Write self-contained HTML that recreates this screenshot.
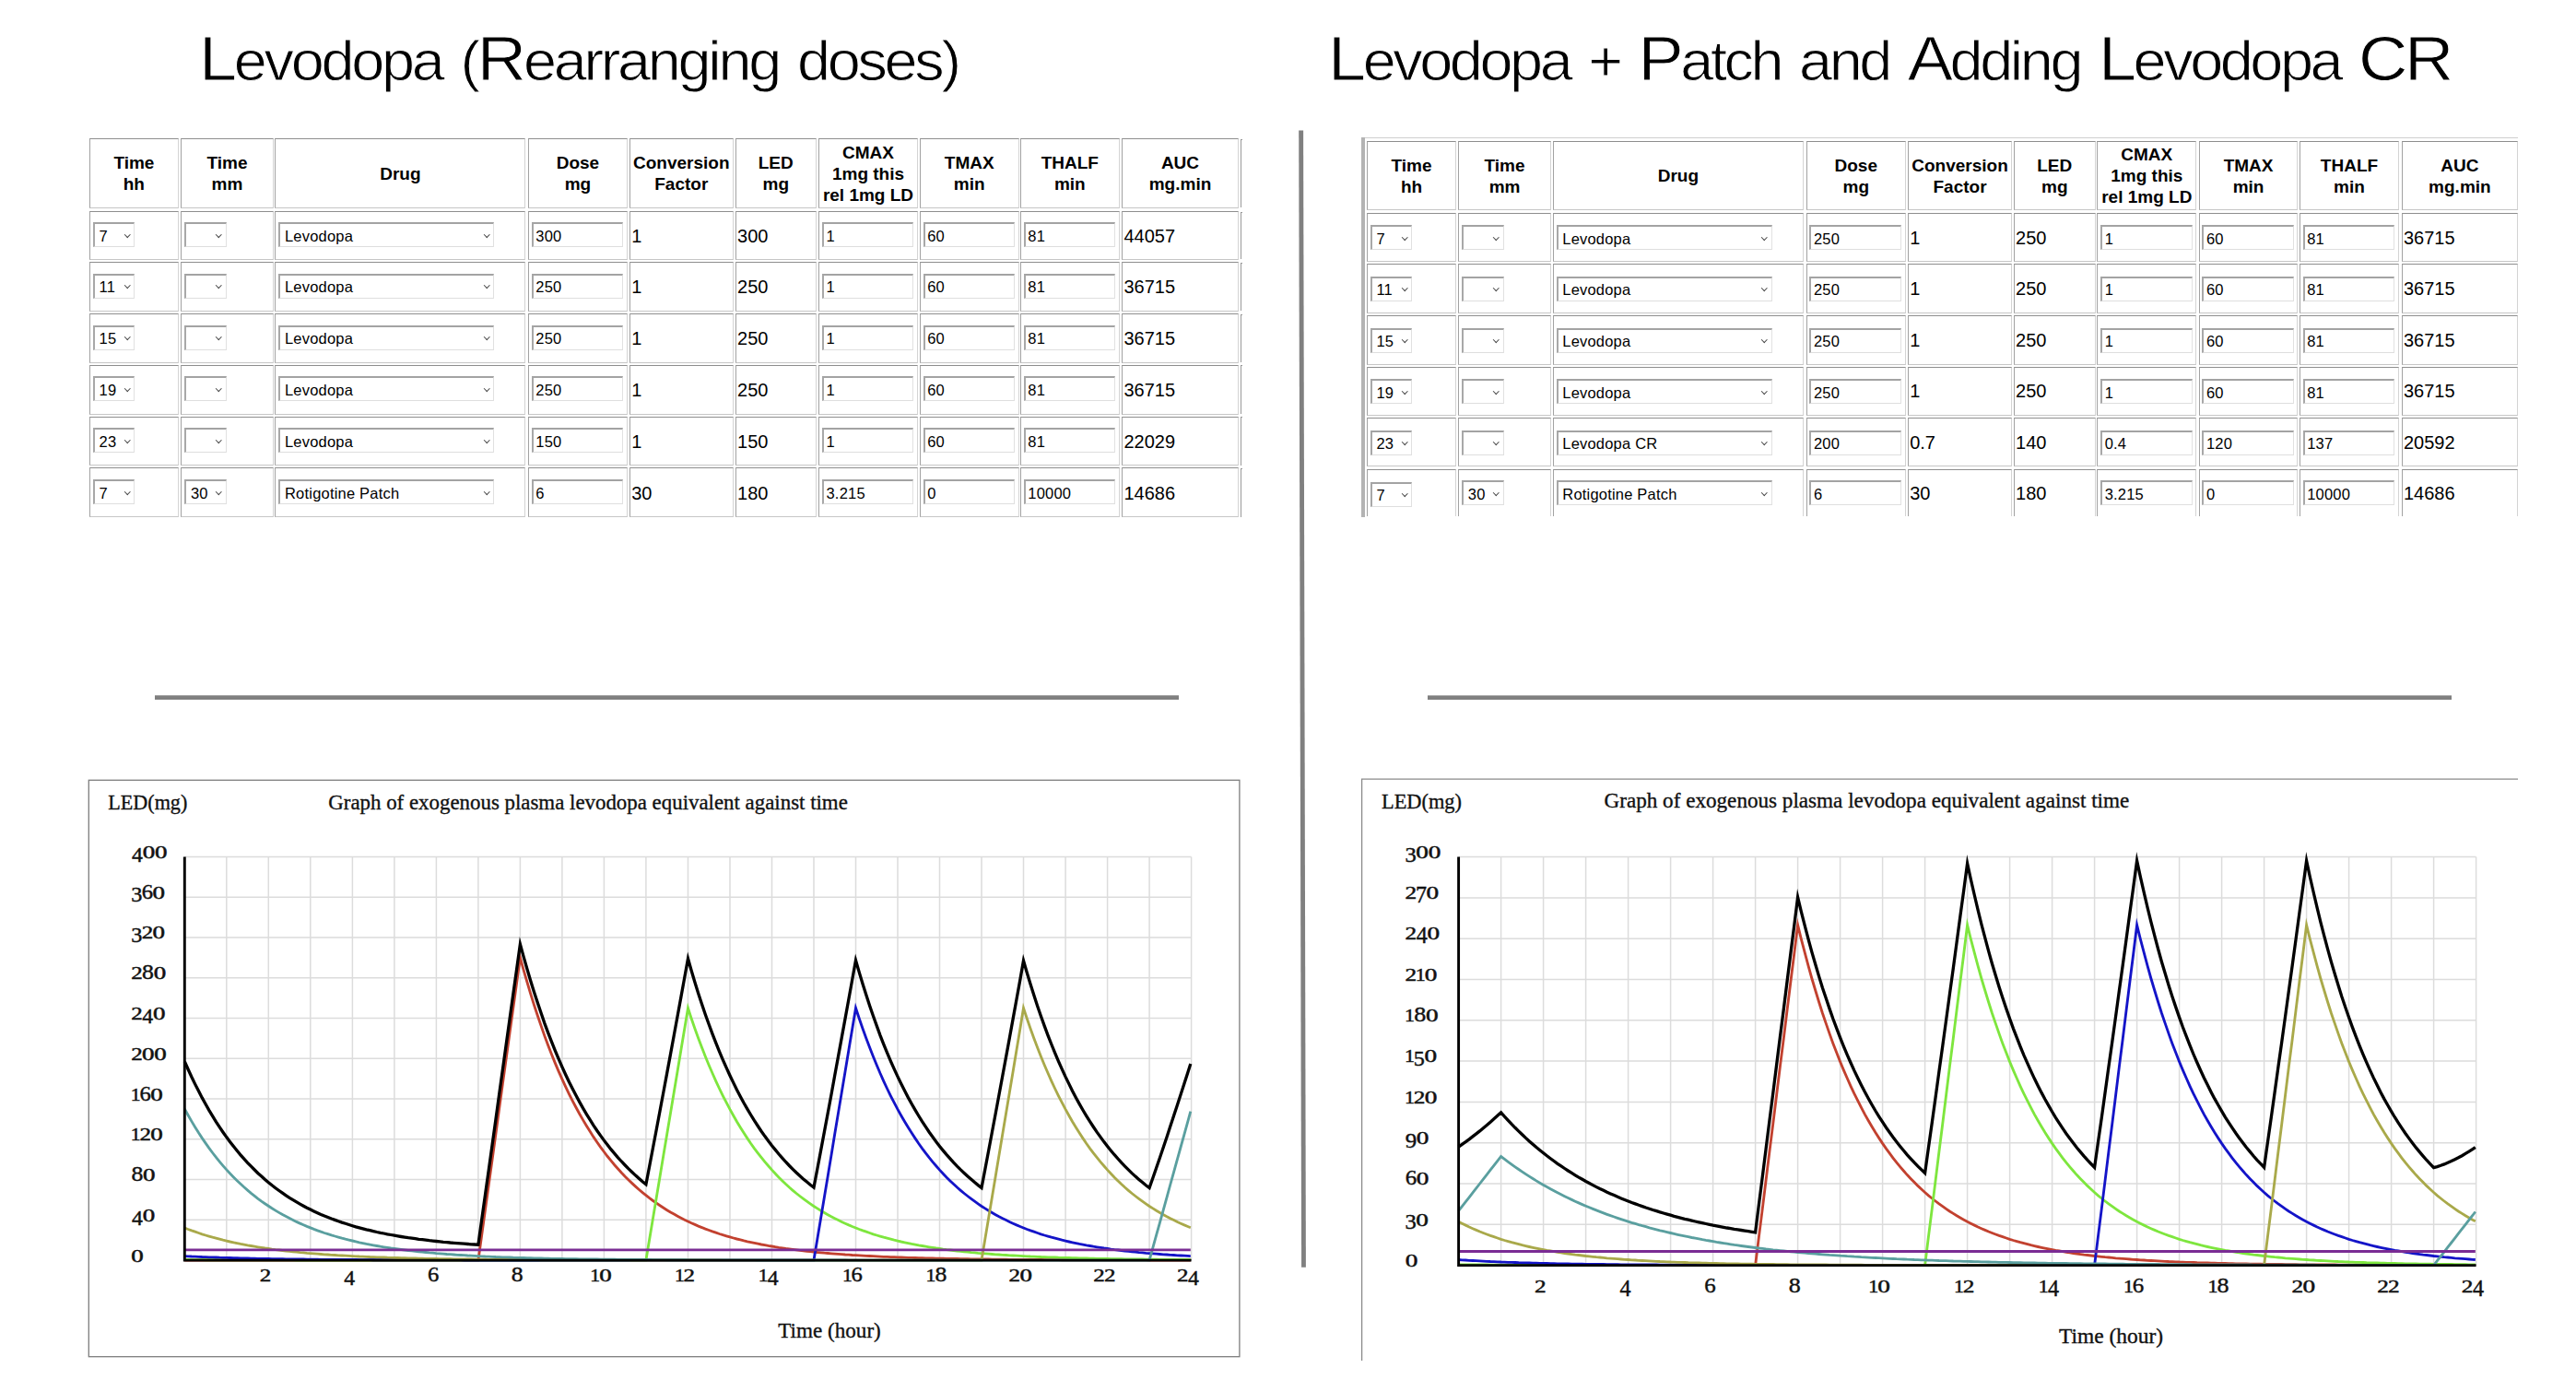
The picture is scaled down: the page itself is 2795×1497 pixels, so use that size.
<!DOCTYPE html><html><head><meta charset="utf-8"><title>Levodopa dose rearrangement</title><style>
*{box-sizing:border-box;margin:0;padding:0}
html,body{width:2795px;height:1497px;overflow:hidden;background:#fff}
body{position:relative;font-family:"Liberation Sans",Arial,sans-serif;color:#000}
.title{position:absolute;word-spacing:5px;font-family:"Liberation Sans",Arial,sans-serif;font-size:60.5px;-webkit-text-stroke:0.9px #fff;paint-order:fill stroke;line-height:1;white-space:nowrap;transform-origin:0 0;color:#000}
.c{position:absolute;border-top:1px solid #8e8e8e;border-left:1px solid #a2a2a2;border-bottom:1px solid #c6c6c6;border-right:1px solid #d4d4d4}
.h{display:flex;align-items:center;justify-content:center;text-align:center;font-weight:bold;font-size:19px;line-height:23px}
.h span{display:block;margin-top:1px}
.t{position:absolute;left:1.4px;font-size:20px;line-height:22px;white-space:nowrap}
.sel,.inp{position:absolute;height:27px;border-top:2px solid #a3a3a3;border-left:2.5px solid #a8a8a8;border-right:1.5px solid #e1e1e1;border-bottom:1.5px solid #dedede;background:#fff;font-size:16.5px;letter-spacing:0.2px;line-height:22px;white-space:nowrap}
.inp{width:99.5px}
.sel span{position:absolute;left:4.5px;top:1.5px}
.inp span{position:absolute;left:2.5px;top:1.5px}
.sel i{position:absolute;right:5px;top:8.5px;width:4.5px;height:4.5px;border-right:1.2px solid #444;border-bottom:1.2px solid #444;transform:rotate(45deg)}
.title b{font-weight:normal;font-size:69px}
svg text{font-family:"Liberation Serif","Times New Roman",serif;fill:#111;stroke:#111;stroke-width:0.35px}
svg text.n{stroke-width:0.45px}
</style></head><body>
<div class="title" id="t1" style="left:216.0px;top:28.5px;letter-spacing:-3.04px;transform:scaleX(1.07)"><b>L</b>evodopa (<b>R</b>earranging doses)</div>
<div class="title" id="t2" style="left:1441.0px;top:28.5px;letter-spacing:-3.18px;transform:scaleX(1.07)"><b>L</b>evodopa + <b>P</b>atch and <b>A</b>dding <b>L</b>evodopa <b>CR</b></div>
<div class="c h" style="left:96.9px;top:150px;width:97px;height:75.7px"><span>Time<br>hh</span></div>
<div class="c h" style="left:196.2px;top:150px;width:100.6px;height:75.7px"><span>Time<br>mm</span></div>
<div class="c h" style="left:298.3px;top:150px;width:272.1px;height:75.7px"><span>Drug</span></div>
<div class="c h" style="left:572.9px;top:150px;width:108px;height:75.7px"><span>Dose<br>mg</span></div>
<div class="c h" style="left:682.8px;top:150px;width:113px;height:75.7px"><span>Conversion<br>Factor</span></div>
<div class="c h" style="left:797.7px;top:150px;width:88.1px;height:75.7px"><span>LED<br>mg</span></div>
<div class="c h" style="left:888.1px;top:150px;width:107.8px;height:75.7px"><span>CMAX<br>1mg this<br>rel 1mg LD</span></div>
<div class="c h" style="left:997.8px;top:150px;width:107.8px;height:75.7px"><span>TMAX<br>min</span></div>
<div class="c h" style="left:1106.9px;top:150px;width:107.9px;height:75.7px"><span>THALF<br>min</span></div>
<div class="c h" style="left:1217.1px;top:150px;width:126.8px;height:75.7px"><span>AUC<br>mg.min</span></div>
<div class="c" style="left:96.9px;top:229px;width:97px;height:53px"><div class="sel" style="left:3.2px;top:11.2px;width:45.2px"><span>7</span><i></i></div></div>
<div class="c" style="left:196.2px;top:229px;width:100.6px;height:53px"><div class="sel" style="left:3.2px;top:11.2px;width:45.4px"><span></span><i></i></div></div>
<div class="c" style="left:298.3px;top:229px;width:272.1px;height:53px"><div class="sel" style="left:3.2px;top:11.2px;width:233.8px"><span>Levodopa</span><i></i></div></div>
<div class="c" style="left:572.9px;top:229px;width:108px;height:53px"><div class="inp" style="left:2.9px;top:11.2px"><span>300</span></div></div>
<div class="c" style="left:682.8px;top:229px;width:113px;height:53px"><span class="t" style="top:14.6px">1</span></div>
<div class="c" style="left:797.7px;top:229px;width:88.1px;height:53px"><span class="t" style="top:14.6px">300</span></div>
<div class="c" style="left:888.1px;top:229px;width:107.8px;height:53px"><div class="inp" style="left:2.9px;top:11.2px"><span>1</span></div></div>
<div class="c" style="left:997.8px;top:229px;width:107.8px;height:53px"><div class="inp" style="left:2.9px;top:11.2px"><span>60</span></div></div>
<div class="c" style="left:1106.9px;top:229px;width:107.9px;height:53px"><div class="inp" style="left:2.9px;top:11.2px"><span>81</span></div></div>
<div class="c" style="left:1217.1px;top:229px;width:126.8px;height:53px"><span class="t" style="top:14.6px">44057</span></div>
<div class="c" style="left:96.9px;top:284.2px;width:97px;height:53.8px"><div class="sel" style="left:3.2px;top:11.6px;width:45.2px"><span>11</span><i></i></div></div>
<div class="c" style="left:196.2px;top:284.2px;width:100.6px;height:53.8px"><div class="sel" style="left:3.2px;top:11.6px;width:45.4px"><span></span><i></i></div></div>
<div class="c" style="left:298.3px;top:284.2px;width:272.1px;height:53.8px"><div class="sel" style="left:3.2px;top:11.6px;width:233.8px"><span>Levodopa</span><i></i></div></div>
<div class="c" style="left:572.9px;top:284.2px;width:108px;height:53.8px"><div class="inp" style="left:2.9px;top:11.6px"><span>250</span></div></div>
<div class="c" style="left:682.8px;top:284.2px;width:113px;height:53.8px"><span class="t" style="top:15px">1</span></div>
<div class="c" style="left:797.7px;top:284.2px;width:88.1px;height:53.8px"><span class="t" style="top:15px">250</span></div>
<div class="c" style="left:888.1px;top:284.2px;width:107.8px;height:53.8px"><div class="inp" style="left:2.9px;top:11.6px"><span>1</span></div></div>
<div class="c" style="left:997.8px;top:284.2px;width:107.8px;height:53.8px"><div class="inp" style="left:2.9px;top:11.6px"><span>60</span></div></div>
<div class="c" style="left:1106.9px;top:284.2px;width:107.9px;height:53.8px"><div class="inp" style="left:2.9px;top:11.6px"><span>81</span></div></div>
<div class="c" style="left:1217.1px;top:284.2px;width:126.8px;height:53.8px"><span class="t" style="top:15px">36715</span></div>
<div class="c" style="left:96.9px;top:340.1px;width:97px;height:53.8px"><div class="sel" style="left:3.2px;top:11.6px;width:45.2px"><span>15</span><i></i></div></div>
<div class="c" style="left:196.2px;top:340.1px;width:100.6px;height:53.8px"><div class="sel" style="left:3.2px;top:11.6px;width:45.4px"><span></span><i></i></div></div>
<div class="c" style="left:298.3px;top:340.1px;width:272.1px;height:53.8px"><div class="sel" style="left:3.2px;top:11.6px;width:233.8px"><span>Levodopa</span><i></i></div></div>
<div class="c" style="left:572.9px;top:340.1px;width:108px;height:53.8px"><div class="inp" style="left:2.9px;top:11.6px"><span>250</span></div></div>
<div class="c" style="left:682.8px;top:340.1px;width:113px;height:53.8px"><span class="t" style="top:15px">1</span></div>
<div class="c" style="left:797.7px;top:340.1px;width:88.1px;height:53.8px"><span class="t" style="top:15px">250</span></div>
<div class="c" style="left:888.1px;top:340.1px;width:107.8px;height:53.8px"><div class="inp" style="left:2.9px;top:11.6px"><span>1</span></div></div>
<div class="c" style="left:997.8px;top:340.1px;width:107.8px;height:53.8px"><div class="inp" style="left:2.9px;top:11.6px"><span>60</span></div></div>
<div class="c" style="left:1106.9px;top:340.1px;width:107.9px;height:53.8px"><div class="inp" style="left:2.9px;top:11.6px"><span>81</span></div></div>
<div class="c" style="left:1217.1px;top:340.1px;width:126.8px;height:53.8px"><span class="t" style="top:15px">36715</span></div>
<div class="c" style="left:96.9px;top:395.5px;width:97px;height:54.4px"><div class="sel" style="left:3.2px;top:11.9px;width:45.2px"><span>19</span><i></i></div></div>
<div class="c" style="left:196.2px;top:395.5px;width:100.6px;height:54.4px"><div class="sel" style="left:3.2px;top:11.9px;width:45.4px"><span></span><i></i></div></div>
<div class="c" style="left:298.3px;top:395.5px;width:272.1px;height:54.4px"><div class="sel" style="left:3.2px;top:11.9px;width:233.8px"><span>Levodopa</span><i></i></div></div>
<div class="c" style="left:572.9px;top:395.5px;width:108px;height:54.4px"><div class="inp" style="left:2.9px;top:11.9px"><span>250</span></div></div>
<div class="c" style="left:682.8px;top:395.5px;width:113px;height:54.4px"><span class="t" style="top:15.3px">1</span></div>
<div class="c" style="left:797.7px;top:395.5px;width:88.1px;height:54.4px"><span class="t" style="top:15.3px">250</span></div>
<div class="c" style="left:888.1px;top:395.5px;width:107.8px;height:54.4px"><div class="inp" style="left:2.9px;top:11.9px"><span>1</span></div></div>
<div class="c" style="left:997.8px;top:395.5px;width:107.8px;height:54.4px"><div class="inp" style="left:2.9px;top:11.9px"><span>60</span></div></div>
<div class="c" style="left:1106.9px;top:395.5px;width:107.9px;height:54.4px"><div class="inp" style="left:2.9px;top:11.9px"><span>81</span></div></div>
<div class="c" style="left:1217.1px;top:395.5px;width:126.8px;height:54.4px"><span class="t" style="top:15.3px">36715</span></div>
<div class="c" style="left:96.9px;top:451.6px;width:97px;height:53.8px"><div class="sel" style="left:3.2px;top:11.6px;width:45.2px"><span>23</span><i></i></div></div>
<div class="c" style="left:196.2px;top:451.6px;width:100.6px;height:53.8px"><div class="sel" style="left:3.2px;top:11.6px;width:45.4px"><span></span><i></i></div></div>
<div class="c" style="left:298.3px;top:451.6px;width:272.1px;height:53.8px"><div class="sel" style="left:3.2px;top:11.6px;width:233.8px"><span>Levodopa</span><i></i></div></div>
<div class="c" style="left:572.9px;top:451.6px;width:108px;height:53.8px"><div class="inp" style="left:2.9px;top:11.6px"><span>150</span></div></div>
<div class="c" style="left:682.8px;top:451.6px;width:113px;height:53.8px"><span class="t" style="top:15px">1</span></div>
<div class="c" style="left:797.7px;top:451.6px;width:88.1px;height:53.8px"><span class="t" style="top:15px">150</span></div>
<div class="c" style="left:888.1px;top:451.6px;width:107.8px;height:53.8px"><div class="inp" style="left:2.9px;top:11.6px"><span>1</span></div></div>
<div class="c" style="left:997.8px;top:451.6px;width:107.8px;height:53.8px"><div class="inp" style="left:2.9px;top:11.6px"><span>60</span></div></div>
<div class="c" style="left:1106.9px;top:451.6px;width:107.9px;height:53.8px"><div class="inp" style="left:2.9px;top:11.6px"><span>81</span></div></div>
<div class="c" style="left:1217.1px;top:451.6px;width:126.8px;height:53.8px"><span class="t" style="top:15px">22029</span></div>
<div class="c" style="left:96.9px;top:507.4px;width:97px;height:54.1px"><div class="sel" style="left:3.2px;top:11.8px;width:45.2px"><span>7</span><i></i></div></div>
<div class="c" style="left:196.2px;top:507.4px;width:100.6px;height:54.1px"><div class="sel" style="left:3.2px;top:11.8px;width:45.4px"><span>30</span><i></i></div></div>
<div class="c" style="left:298.3px;top:507.4px;width:272.1px;height:54.1px"><div class="sel" style="left:3.2px;top:11.8px;width:233.8px"><span>Rotigotine Patch</span><i></i></div></div>
<div class="c" style="left:572.9px;top:507.4px;width:108px;height:54.1px"><div class="inp" style="left:2.9px;top:11.8px"><span>6</span></div></div>
<div class="c" style="left:682.8px;top:507.4px;width:113px;height:54.1px"><span class="t" style="top:15.2px">30</span></div>
<div class="c" style="left:797.7px;top:507.4px;width:88.1px;height:54.1px"><span class="t" style="top:15.2px">180</span></div>
<div class="c" style="left:888.1px;top:507.4px;width:107.8px;height:54.1px"><div class="inp" style="left:2.9px;top:11.8px"><span>3.215</span></div></div>
<div class="c" style="left:997.8px;top:507.4px;width:107.8px;height:54.1px"><div class="inp" style="left:2.9px;top:11.8px"><span>0</span></div></div>
<div class="c" style="left:1106.9px;top:507.4px;width:107.9px;height:54.1px"><div class="inp" style="left:2.9px;top:11.8px"><span>10000</span></div></div>
<div class="c" style="left:1217.1px;top:507.4px;width:126.8px;height:54.1px"><span class="t" style="top:15.2px">14686</span></div>
<div style="position:absolute;left:1346.2px;top:150.6px;width:2px;height:74.5px;border-left:1px solid #999;border-top:1px solid #999"></div>
<div style="position:absolute;left:1346.2px;top:229.6px;width:2px;height:51.8px;border-left:1px solid #999;border-top:1px solid #999"></div>
<div style="position:absolute;left:1346.2px;top:284.8px;width:2px;height:52.6px;border-left:1px solid #999;border-top:1px solid #999"></div>
<div style="position:absolute;left:1346.2px;top:340.7px;width:2px;height:52.6px;border-left:1px solid #999;border-top:1px solid #999"></div>
<div style="position:absolute;left:1346.2px;top:396.1px;width:2px;height:53.2px;border-left:1px solid #999;border-top:1px solid #999"></div>
<div style="position:absolute;left:1346.2px;top:452.2px;width:2px;height:52.6px;border-left:1px solid #999;border-top:1px solid #999"></div>
<div style="position:absolute;left:1346.2px;top:508px;width:2px;height:52.9px;border-left:1px solid #999;border-top:1px solid #999"></div>
<div style="position:absolute;left:1477px;top:149px;width:255px;height:1px;background:#cfcfcf"></div>
<div style="position:absolute;left:1477px;top:149px;width:1255px;height:1px;background:#cfcfcf"></div>
<div style="position:absolute;left:1477px;top:149px;width:4px;height:412px;background:#b3b3b3"></div>
<div class="c h" style="left:1482.7px;top:152.6px;width:97.8px;height:75.7px"><span>Time<br>hh</span></div>
<div class="c h" style="left:1582.1px;top:152.6px;width:100.9px;height:75.7px"><span>Time<br>mm</span></div>
<div class="c h" style="left:1684.6px;top:152.6px;width:272.6px;height:75.7px"><span>Drug</span></div>
<div class="c h" style="left:1959.6px;top:152.6px;width:108.3px;height:75.7px"><span>Dose<br>mg</span></div>
<div class="c h" style="left:2069.8px;top:152.6px;width:113.5px;height:75.7px"><span>Conversion<br>Factor</span></div>
<div class="c h" style="left:2184.7px;top:152.6px;width:89.1px;height:75.7px"><span>LED<br>mg</span></div>
<div class="c h" style="left:2275.3px;top:152.6px;width:108px;height:75.7px"><span>CMAX<br>1mg this<br>rel 1mg LD</span></div>
<div class="c h" style="left:2385.6px;top:152.6px;width:107.9px;height:75.7px"><span>TMAX<br>min</span></div>
<div class="c h" style="left:2494.8px;top:152.6px;width:108.4px;height:75.7px"><span>THALF<br>min</span></div>
<div class="c h" style="left:2605.5px;top:152.6px;width:126.8px;height:75.7px"><span>AUC<br>mg.min</span></div>
<div class="c" style="left:1482.7px;top:230.8px;width:97.8px;height:53.4px"><div class="sel" style="left:3.2px;top:12.6px;width:45.2px"><span>7</span><i></i></div></div>
<div class="c" style="left:1582.1px;top:230.8px;width:100.9px;height:53.4px"><div class="sel" style="left:3.2px;top:12.6px;width:45.4px"><span></span><i></i></div></div>
<div class="c" style="left:1684.6px;top:230.8px;width:272.6px;height:53.4px"><div class="sel" style="left:3.2px;top:12.6px;width:233.8px"><span>Levodopa</span><i></i></div></div>
<div class="c" style="left:1959.6px;top:230.8px;width:108.3px;height:53.4px"><div class="inp" style="left:2.9px;top:12.6px"><span>250</span></div></div>
<div class="c" style="left:2069.8px;top:230.8px;width:113.5px;height:53.4px"><span class="t" style="top:14.8px">1</span></div>
<div class="c" style="left:2184.7px;top:230.8px;width:89.1px;height:53.4px"><span class="t" style="top:14.8px">250</span></div>
<div class="c" style="left:2275.3px;top:230.8px;width:108px;height:53.4px"><div class="inp" style="left:2.9px;top:12.6px"><span>1</span></div></div>
<div class="c" style="left:2385.6px;top:230.8px;width:107.9px;height:53.4px"><div class="inp" style="left:2.9px;top:12.6px"><span>60</span></div></div>
<div class="c" style="left:2494.8px;top:230.8px;width:108.4px;height:53.4px"><div class="inp" style="left:2.9px;top:12.6px"><span>81</span></div></div>
<div class="c" style="left:2605.5px;top:230.8px;width:126.8px;height:53.4px"><span class="t" style="top:14.8px">36715</span></div>
<div class="c" style="left:1482.7px;top:285.7px;width:97.8px;height:54.5px"><div class="sel" style="left:3.2px;top:13.2px;width:45.2px"><span>11</span><i></i></div></div>
<div class="c" style="left:1582.1px;top:285.7px;width:100.9px;height:54.5px"><div class="sel" style="left:3.2px;top:13.2px;width:45.4px"><span></span><i></i></div></div>
<div class="c" style="left:1684.6px;top:285.7px;width:272.6px;height:54.5px"><div class="sel" style="left:3.2px;top:13.2px;width:233.8px"><span>Levodopa</span><i></i></div></div>
<div class="c" style="left:1959.6px;top:285.7px;width:108.3px;height:54.5px"><div class="inp" style="left:2.9px;top:13.2px"><span>250</span></div></div>
<div class="c" style="left:2069.8px;top:285.7px;width:113.5px;height:54.5px"><span class="t" style="top:15.4px">1</span></div>
<div class="c" style="left:2184.7px;top:285.7px;width:89.1px;height:54.5px"><span class="t" style="top:15.4px">250</span></div>
<div class="c" style="left:2275.3px;top:285.7px;width:108px;height:54.5px"><div class="inp" style="left:2.9px;top:13.2px"><span>1</span></div></div>
<div class="c" style="left:2385.6px;top:285.7px;width:107.9px;height:54.5px"><div class="inp" style="left:2.9px;top:13.2px"><span>60</span></div></div>
<div class="c" style="left:2494.8px;top:285.7px;width:108.4px;height:54.5px"><div class="inp" style="left:2.9px;top:13.2px"><span>81</span></div></div>
<div class="c" style="left:2605.5px;top:285.7px;width:126.8px;height:54.5px"><span class="t" style="top:15.4px">36715</span></div>
<div class="c" style="left:1482.7px;top:341.8px;width:97.8px;height:53.8px"><div class="sel" style="left:3.2px;top:12.8px;width:45.2px"><span>15</span><i></i></div></div>
<div class="c" style="left:1582.1px;top:341.8px;width:100.9px;height:53.8px"><div class="sel" style="left:3.2px;top:12.8px;width:45.4px"><span></span><i></i></div></div>
<div class="c" style="left:1684.6px;top:341.8px;width:272.6px;height:53.8px"><div class="sel" style="left:3.2px;top:12.8px;width:233.8px"><span>Levodopa</span><i></i></div></div>
<div class="c" style="left:1959.6px;top:341.8px;width:108.3px;height:53.8px"><div class="inp" style="left:2.9px;top:12.8px"><span>250</span></div></div>
<div class="c" style="left:2069.8px;top:341.8px;width:113.5px;height:53.8px"><span class="t" style="top:15px">1</span></div>
<div class="c" style="left:2184.7px;top:341.8px;width:89.1px;height:53.8px"><span class="t" style="top:15px">250</span></div>
<div class="c" style="left:2275.3px;top:341.8px;width:108px;height:53.8px"><div class="inp" style="left:2.9px;top:12.8px"><span>1</span></div></div>
<div class="c" style="left:2385.6px;top:341.8px;width:107.9px;height:53.8px"><div class="inp" style="left:2.9px;top:12.8px"><span>60</span></div></div>
<div class="c" style="left:2494.8px;top:341.8px;width:108.4px;height:53.8px"><div class="inp" style="left:2.9px;top:12.8px"><span>81</span></div></div>
<div class="c" style="left:2605.5px;top:341.8px;width:126.8px;height:53.8px"><span class="t" style="top:15px">36715</span></div>
<div class="c" style="left:1482.7px;top:397.7px;width:97.8px;height:53.3px"><div class="sel" style="left:3.2px;top:12.6px;width:45.2px"><span>19</span><i></i></div></div>
<div class="c" style="left:1582.1px;top:397.7px;width:100.9px;height:53.3px"><div class="sel" style="left:3.2px;top:12.6px;width:45.4px"><span></span><i></i></div></div>
<div class="c" style="left:1684.6px;top:397.7px;width:272.6px;height:53.3px"><div class="sel" style="left:3.2px;top:12.6px;width:233.8px"><span>Levodopa</span><i></i></div></div>
<div class="c" style="left:1959.6px;top:397.7px;width:108.3px;height:53.3px"><div class="inp" style="left:2.9px;top:12.6px"><span>250</span></div></div>
<div class="c" style="left:2069.8px;top:397.7px;width:113.5px;height:53.3px"><span class="t" style="top:14.8px">1</span></div>
<div class="c" style="left:2184.7px;top:397.7px;width:89.1px;height:53.3px"><span class="t" style="top:14.8px">250</span></div>
<div class="c" style="left:2275.3px;top:397.7px;width:108px;height:53.3px"><div class="inp" style="left:2.9px;top:12.6px"><span>1</span></div></div>
<div class="c" style="left:2385.6px;top:397.7px;width:107.9px;height:53.3px"><div class="inp" style="left:2.9px;top:12.6px"><span>60</span></div></div>
<div class="c" style="left:2494.8px;top:397.7px;width:108.4px;height:53.3px"><div class="inp" style="left:2.9px;top:12.6px"><span>81</span></div></div>
<div class="c" style="left:2605.5px;top:397.7px;width:126.8px;height:53.3px"><span class="t" style="top:14.8px">36715</span></div>
<div class="c" style="left:1482.7px;top:453.1px;width:97.8px;height:53.4px"><div class="sel" style="left:3.2px;top:12.6px;width:45.2px"><span>23</span><i></i></div></div>
<div class="c" style="left:1582.1px;top:453.1px;width:100.9px;height:53.4px"><div class="sel" style="left:3.2px;top:12.6px;width:45.4px"><span></span><i></i></div></div>
<div class="c" style="left:1684.6px;top:453.1px;width:272.6px;height:53.4px"><div class="sel" style="left:3.2px;top:12.6px;width:233.8px"><span>Levodopa CR</span><i></i></div></div>
<div class="c" style="left:1959.6px;top:453.1px;width:108.3px;height:53.4px"><div class="inp" style="left:2.9px;top:12.6px"><span>200</span></div></div>
<div class="c" style="left:2069.8px;top:453.1px;width:113.5px;height:53.4px"><span class="t" style="top:14.8px">0.7</span></div>
<div class="c" style="left:2184.7px;top:453.1px;width:89.1px;height:53.4px"><span class="t" style="top:14.8px">140</span></div>
<div class="c" style="left:2275.3px;top:453.1px;width:108px;height:53.4px"><div class="inp" style="left:2.9px;top:12.6px"><span>0.4</span></div></div>
<div class="c" style="left:2385.6px;top:453.1px;width:107.9px;height:53.4px"><div class="inp" style="left:2.9px;top:12.6px"><span>120</span></div></div>
<div class="c" style="left:2494.8px;top:453.1px;width:108.4px;height:53.4px"><div class="inp" style="left:2.9px;top:12.6px"><span>137</span></div></div>
<div class="c" style="left:2605.5px;top:453.1px;width:126.8px;height:53.4px"><span class="t" style="top:14.8px">20592</span></div>
<div class="c" style="left:1482.7px;top:508.5px;width:97.8px;height:51.9px;border-bottom:none"><div class="sel" style="left:3.2px;top:13.2px;width:45.2px"><span>7</span><i></i></div></div>
<div class="c" style="left:1582.1px;top:508.5px;width:100.9px;height:51.9px;border-bottom:none"><div class="sel" style="left:3.2px;top:11.9px;width:45.4px"><span>30</span><i></i></div></div>
<div class="c" style="left:1684.6px;top:508.5px;width:272.6px;height:51.9px;border-bottom:none"><div class="sel" style="left:3.2px;top:11.9px;width:233.8px"><span>Rotigotine Patch</span><i></i></div></div>
<div class="c" style="left:1959.6px;top:508.5px;width:108.3px;height:51.9px;border-bottom:none"><div class="inp" style="left:2.9px;top:11.9px"><span>6</span></div></div>
<div class="c" style="left:2069.8px;top:508.5px;width:113.5px;height:51.9px;border-bottom:none"><span class="t" style="top:14.1px">30</span></div>
<div class="c" style="left:2184.7px;top:508.5px;width:89.1px;height:51.9px;border-bottom:none"><span class="t" style="top:14.1px">180</span></div>
<div class="c" style="left:2275.3px;top:508.5px;width:108px;height:51.9px;border-bottom:none"><div class="inp" style="left:2.9px;top:11.9px"><span>3.215</span></div></div>
<div class="c" style="left:2385.6px;top:508.5px;width:107.9px;height:51.9px;border-bottom:none"><div class="inp" style="left:2.9px;top:11.9px"><span>0</span></div></div>
<div class="c" style="left:2494.8px;top:508.5px;width:108.4px;height:51.9px;border-bottom:none"><div class="inp" style="left:2.9px;top:11.9px"><span>10000</span></div></div>
<div class="c" style="left:2605.5px;top:508.5px;width:126.8px;height:51.9px;border-bottom:none"><span class="t" style="top:14.1px">14686</span></div>
<svg width="2795" height="1497" viewBox="0 0 2795 1497" style="position:absolute;left:0;top:0">
<polygon points="1409.2,141.4 1414.1,141.4 1416.9,1374.8 1412.1,1374.8" fill="#808080"/>
<rect x="168" y="754.3" width="1111" height="4.7" fill="#808080"/>
<rect x="1549" y="754.4" width="1111" height="4.7" fill="#808080"/>
<rect x="96.3" y="846.3" width="1248.6" height="625.4" fill="none" stroke="#7d7d7d" stroke-width="1.3"/>
<path d="M1477.6 1476V845.2H2732" fill="none" stroke="#8a8a8a" stroke-width="1.3"/>
<path d="M245.8 929.4V1367.1M291.3 929.4V1367.1M336.8 929.4V1367.1M382.4 929.4V1367.1M427.9 929.4V1367.1M473.4 929.4V1367.1M518.9 929.4V1367.1M564.4 929.4V1367.1M609.9 929.4V1367.1M655.4 929.4V1367.1M700.9 929.4V1367.1M746.5 929.4V1367.1M792 929.4V1367.1M837.5 929.4V1367.1M883 929.4V1367.1M928.5 929.4V1367.1M974 929.4V1367.1M1019.5 929.4V1367.1M1065 929.4V1367.1M1110.5 929.4V1367.1M1156.1 929.4V1367.1M1201.6 929.4V1367.1M1247.1 929.4V1367.1M1292.6 929.4V1367.1M200.3 1323.3H1292.6M200.3 1279.6H1292.6M200.3 1235.8H1292.6M200.3 1192H1292.6M200.3 1148.2H1292.6M200.3 1104.5H1292.6M200.3 1060.7H1292.6M200.3 1016.9H1292.6M200.3 973.2H1292.6M200.3 929.4H1292.6" stroke="#dcdcdc" stroke-width="1.5" fill="none"/>
<polyline points="200.3,1367 204.1,1367 207.9,1367 211.7,1367 215.5,1367 219.3,1367 223.1,1367 226.8,1367 230.6,1367 234.4,1367 238.2,1367 242,1367 245.8,1367 249.6,1367 253.4,1367.1 257.2,1367.1 261,1367.1 264.8,1367.1 268.6,1367.1 272.4,1367.1 276.2,1367.1 279.9,1367.1 283.7,1367.1 287.5,1367.1 291.3,1367.1 295.1,1367.1 298.9,1367.1 302.7,1367.1 306.5,1367.1 310.3,1367.1 314.1,1367.1 317.9,1367.1 321.7,1367.1 325.5,1367.1 329.3,1367.1 333,1367.1 336.8,1367.1 340.6,1367.1 344.4,1367.1 348.2,1367.1 352,1367.1 355.8,1367.1 359.6,1367.1 363.4,1367.1 367.2,1367.1 371,1367.1 374.8,1367.1 378.6,1367.1 382.4,1367.1 386.1,1367.1 389.9,1367.1 393.7,1367.1 397.5,1367.1 401.3,1367.1 405.1,1367.1 408.9,1367.1 412.7,1367.1 416.5,1367.1 420.3,1367.1 424.1,1367.1 427.9,1367.1 431.7,1367.1 435.4,1367.1 439.2,1367.1 443,1367.1 446.8,1367.1 450.6,1367.1 454.4,1367.1 458.2,1367.1 462,1367.1 465.8,1367.1 469.6,1367.1 473.4,1367.1 477.2,1367.1 481,1367.1 484.8,1367.1 488.5,1367.1 492.3,1367.1 496.1,1367.1 499.9,1367.1 503.7,1367.1 507.5,1367.1 511.3,1367.1 515.1,1367.1 518.9,1367.1 522.7,1339.7 526.5,1312.4 530.3,1285 534.1,1257.7 537.9,1230.3 541.6,1203 545.4,1175.6 549.2,1148.2 553,1120.9 556.8,1093.5 560.6,1066.2 564.4,1038.8 568.2,1052.6 572,1065.7 575.8,1078.4 579.6,1090.5 583.4,1102 587.2,1113.1 590.9,1123.8 594.7,1134 598.5,1143.7 602.3,1153.1 606.1,1162.1 609.9,1170.6 613.7,1178.9 617.5,1186.8 621.3,1194.3 625.1,1201.5 628.9,1208.5 632.7,1215.1 636.5,1221.5 640.3,1227.6 644,1233.4 647.8,1239 651.6,1244.4 655.4,1249.5 659.2,1254.5 663,1259.2 666.8,1263.7 670.6,1268 674.4,1272.2 678.2,1276.2 682,1280 685.8,1283.6 689.6,1287.1 693.4,1290.5 697.1,1293.7 700.9,1296.7 704.7,1299.7 708.5,1302.5 712.3,1305.2 716.1,1307.8 719.9,1310.3 723.7,1312.7 727.5,1315 731.3,1317.1 735.1,1319.2 738.9,1321.2 742.7,1323.2 746.5,1325 750.2,1326.8 754,1328.4 757.8,1330.1 761.6,1331.6 765.4,1333.1 769.2,1334.5 773,1335.9 776.8,1337.2 780.6,1338.5 784.4,1339.7 788.2,1340.8 792,1341.9 795.8,1343 799.5,1344 803.3,1344.9 807.1,1345.9 810.9,1346.8 814.7,1347.6 818.5,1348.4 822.3,1349.2 826.1,1350 829.9,1350.7 833.7,1351.4 837.5,1352 841.3,1352.7 845.1,1353.3 848.9,1353.8 852.6,1354.4 856.4,1354.9 860.2,1355.4 864,1355.9 867.8,1356.4 871.6,1356.8 875.4,1357.3 879.2,1357.7 883,1358.1 886.8,1358.5 890.6,1358.8 894.4,1359.2 898.2,1359.5 902,1359.8 905.7,1360.1 909.5,1360.4 913.3,1360.7 917.1,1361 920.9,1361.2 924.7,1361.5 928.5,1361.7 932.3,1361.9 936.1,1362.1 939.9,1362.4 943.7,1362.5 947.5,1362.7 951.3,1362.9 955,1363.1 958.8,1363.3 962.6,1363.4 966.4,1363.6 970.2,1363.7 974,1363.9 977.8,1364 981.6,1364.1 985.4,1364.3 989.2,1364.4 993,1364.5 996.8,1364.6 1000.6,1364.7 1004.4,1364.8 1008.1,1364.9 1011.9,1365 1015.7,1365.1 1019.5,1365.2 1023.3,1365.2 1027.1,1365.3 1030.9,1365.4 1034.7,1365.5 1038.5,1365.5 1042.3,1365.6 1046.1,1365.7 1049.9,1365.7 1053.7,1365.8 1057.5,1365.8 1061.2,1365.9 1065,1365.9 1068.8,1366 1072.6,1366 1076.4,1366.1 1080.2,1366.1 1084,1366.2 1087.8,1366.2 1091.6,1366.2 1095.4,1366.3 1099.2,1366.3 1103,1366.3 1106.8,1366.4 1110.5,1366.4 1114.3,1366.4 1118.1,1366.5 1121.9,1366.5 1125.7,1366.5 1129.5,1366.5 1133.3,1366.6 1137.1,1366.6 1140.9,1366.6 1144.7,1366.6 1148.5,1366.6 1152.3,1366.7 1156.1,1366.7 1159.9,1366.7 1163.6,1366.7 1167.4,1366.7 1171.2,1366.8 1175,1366.8 1178.8,1366.8 1182.6,1366.8 1186.4,1366.8 1190.2,1366.8 1194,1366.8 1197.8,1366.8 1201.6,1366.9 1205.4,1366.9 1209.2,1366.9 1213,1366.9 1216.7,1366.9 1220.5,1366.9 1224.3,1366.9 1228.1,1366.9 1231.9,1366.9 1235.7,1366.9 1239.5,1366.9 1243.3,1366.9 1247.1,1367 1250.9,1367 1254.7,1367 1258.5,1367 1262.3,1367 1266.1,1367 1269.8,1367 1273.6,1367 1277.4,1367 1281.2,1367 1285,1367 1288.8,1367 1291.8,1367" stroke="#c2412f" stroke-width="2.85" fill="none" stroke-linejoin="miter" stroke-miterlimit="10"/>
<polyline points="200.3,1366.5 204.1,1366.5 207.9,1366.6 211.7,1366.6 215.5,1366.6 219.3,1366.6 223.1,1366.7 226.8,1366.7 230.6,1366.7 234.4,1366.7 238.2,1366.7 242,1366.7 245.8,1366.8 249.6,1366.8 253.4,1366.8 257.2,1366.8 261,1366.8 264.8,1366.8 268.6,1366.8 272.4,1366.8 276.2,1366.9 279.9,1366.9 283.7,1366.9 287.5,1366.9 291.3,1366.9 295.1,1366.9 298.9,1366.9 302.7,1366.9 306.5,1366.9 310.3,1366.9 314.1,1366.9 317.9,1366.9 321.7,1367 325.5,1367 329.3,1367 333,1367 336.8,1367 340.6,1367 344.4,1367 348.2,1367 352,1367 355.8,1367 359.6,1367 363.4,1367 367.2,1367 371,1367 374.8,1367 378.6,1367 382.4,1367 386.1,1367 389.9,1367 393.7,1367 397.5,1367 401.3,1367 405.1,1367 408.9,1367 412.7,1367 416.5,1367 420.3,1367.1 424.1,1367.1 427.9,1367.1 431.7,1367.1 435.4,1367.1 439.2,1367.1 443,1367.1 446.8,1367.1 450.6,1367.1 454.4,1367.1 458.2,1367.1 462,1367.1 465.8,1367.1 469.6,1367.1 473.4,1367.1 477.2,1367.1 481,1367.1 484.8,1367.1 488.5,1367.1 492.3,1367.1 496.1,1367.1 499.9,1367.1 503.7,1367.1 507.5,1367.1 511.3,1367.1 515.1,1367.1 518.9,1367.1 522.7,1367.1 526.5,1367.1 530.3,1367.1 534.1,1367.1 537.9,1367.1 541.6,1367.1 545.4,1367.1 549.2,1367.1 553,1367.1 556.8,1367.1 560.6,1367.1 564.4,1367.1 568.2,1367.1 572,1367.1 575.8,1367.1 579.6,1367.1 583.4,1367.1 587.2,1367.1 590.9,1367.1 594.7,1367.1 598.5,1367.1 602.3,1367.1 606.1,1367.1 609.9,1367.1 613.7,1367.1 617.5,1367.1 621.3,1367.1 625.1,1367.1 628.9,1367.1 632.7,1367.1 636.5,1367.1 640.3,1367.1 644,1367.1 647.8,1367.1 651.6,1367.1 655.4,1367.1 659.2,1367.1 663,1367.1 666.8,1367.1 670.6,1367.1 674.4,1367.1 678.2,1367.1 682,1367.1 685.8,1367.1 689.6,1367.1 693.4,1367.1 697.1,1367.1 700.9,1367.1 704.7,1344.3 708.5,1321.5 712.3,1298.7 716.1,1275.9 719.9,1253.1 723.7,1230.3 727.5,1207.5 731.3,1184.7 735.1,1161.9 738.9,1139.1 742.7,1116.3 746.5,1093.5 750.2,1105 754,1116 757.8,1126.5 761.6,1136.6 765.4,1146.2 769.2,1155.5 773,1164.3 776.8,1172.8 780.6,1181 784.4,1188.8 788.2,1196.2 792,1203.4 795.8,1210.2 799.5,1216.8 803.3,1223.1 807.1,1229.1 810.9,1234.9 814.7,1240.5 818.5,1245.8 822.3,1250.8 826.1,1255.7 829.9,1260.4 833.7,1264.8 837.5,1269.1 841.3,1273.2 845.1,1277.2 848.9,1280.9 852.6,1284.5 856.4,1288 860.2,1291.3 864,1294.5 867.8,1297.5 871.6,1300.4 875.4,1303.2 879.2,1305.9 883,1308.5 886.8,1310.9 890.6,1313.3 894.4,1315.5 898.2,1317.7 902,1319.8 905.7,1321.7 909.5,1323.6 913.3,1325.5 917.1,1327.2 920.9,1328.9 924.7,1330.5 928.5,1332 932.3,1333.5 936.1,1334.9 939.9,1336.2 943.7,1337.5 947.5,1338.8 951.3,1340 955,1341.1 958.8,1342.2 962.6,1343.2 966.4,1344.2 970.2,1345.2 974,1346.1 977.8,1347 981.6,1347.8 985.4,1348.6 989.2,1349.4 993,1350.1 996.8,1350.9 1000.6,1351.5 1004.4,1352.2 1008.1,1352.8 1011.9,1353.4 1015.7,1354 1019.5,1354.5 1023.3,1355.1 1027.1,1355.6 1030.9,1356 1034.7,1356.5 1038.5,1357 1042.3,1357.4 1046.1,1357.8 1049.9,1358.2 1053.7,1358.6 1057.5,1358.9 1061.2,1359.3 1065,1359.6 1068.8,1359.9 1072.6,1360.2 1076.4,1360.5 1080.2,1360.8 1084,1361 1087.8,1361.3 1091.6,1361.5 1095.4,1361.8 1099.2,1362 1103,1362.2 1106.8,1362.4 1110.5,1362.6 1114.3,1362.8 1118.1,1363 1121.9,1363.1 1125.7,1363.3 1129.5,1363.5 1133.3,1363.6 1137.1,1363.8 1140.9,1363.9 1144.7,1364 1148.5,1364.2 1152.3,1364.3 1156.1,1364.4 1159.9,1364.5 1163.6,1364.6 1167.4,1364.7 1171.2,1364.8 1175,1364.9 1178.8,1365 1182.6,1365.1 1186.4,1365.2 1190.2,1365.3 1194,1365.3 1197.8,1365.4 1201.6,1365.5 1205.4,1365.6 1209.2,1365.6 1213,1365.7 1216.7,1365.7 1220.5,1365.8 1224.3,1365.9 1228.1,1365.9 1231.9,1366 1235.7,1366 1239.5,1366 1243.3,1366.1 1247.1,1366.1 1250.9,1366.2 1254.7,1366.2 1258.5,1366.3 1262.3,1366.3 1266.1,1366.3 1269.8,1366.4 1273.6,1366.4 1277.4,1366.4 1281.2,1366.4 1285,1366.5 1288.8,1366.5 1291.8,1366.5" stroke="#7ee63e" stroke-width="2.85" fill="none" stroke-linejoin="miter" stroke-miterlimit="10"/>
<polyline points="200.3,1362.6 204.1,1362.8 207.9,1363 211.7,1363.1 215.5,1363.3 219.3,1363.5 223.1,1363.6 226.8,1363.8 230.6,1363.9 234.4,1364 238.2,1364.2 242,1364.3 245.8,1364.4 249.6,1364.5 253.4,1364.6 257.2,1364.7 261,1364.8 264.8,1364.9 268.6,1365 272.4,1365.1 276.2,1365.2 279.9,1365.3 283.7,1365.3 287.5,1365.4 291.3,1365.5 295.1,1365.6 298.9,1365.6 302.7,1365.7 306.5,1365.7 310.3,1365.8 314.1,1365.9 317.9,1365.9 321.7,1366 325.5,1366 329.3,1366 333,1366.1 336.8,1366.1 340.6,1366.2 344.4,1366.2 348.2,1366.3 352,1366.3 355.8,1366.3 359.6,1366.4 363.4,1366.4 367.2,1366.4 371,1366.4 374.8,1366.5 378.6,1366.5 382.4,1366.5 386.1,1366.5 389.9,1366.6 393.7,1366.6 397.5,1366.6 401.3,1366.6 405.1,1366.7 408.9,1366.7 412.7,1366.7 416.5,1366.7 420.3,1366.7 424.1,1366.7 427.9,1366.8 431.7,1366.8 435.4,1366.8 439.2,1366.8 443,1366.8 446.8,1366.8 450.6,1366.8 454.4,1366.8 458.2,1366.9 462,1366.9 465.8,1366.9 469.6,1366.9 473.4,1366.9 477.2,1366.9 481,1366.9 484.8,1366.9 488.5,1366.9 492.3,1366.9 496.1,1366.9 499.9,1366.9 503.7,1367 507.5,1367 511.3,1367 515.1,1367 518.9,1367 522.7,1367 526.5,1367 530.3,1367 534.1,1367 537.9,1367 541.6,1367 545.4,1367 549.2,1367 553,1367 556.8,1367 560.6,1367 564.4,1367 568.2,1367 572,1367 575.8,1367 579.6,1367 583.4,1367 587.2,1367 590.9,1367 594.7,1367 598.5,1367 602.3,1367.1 606.1,1367.1 609.9,1367.1 613.7,1367.1 617.5,1367.1 621.3,1367.1 625.1,1367.1 628.9,1367.1 632.7,1367.1 636.5,1367.1 640.3,1367.1 644,1367.1 647.8,1367.1 651.6,1367.1 655.4,1367.1 659.2,1367.1 663,1367.1 666.8,1367.1 670.6,1367.1 674.4,1367.1 678.2,1367.1 682,1367.1 685.8,1367.1 689.6,1367.1 693.4,1367.1 697.1,1367.1 700.9,1367.1 704.7,1367.1 708.5,1367.1 712.3,1367.1 716.1,1367.1 719.9,1367.1 723.7,1367.1 727.5,1367.1 731.3,1367.1 735.1,1367.1 738.9,1367.1 742.7,1367.1 746.5,1367.1 750.2,1367.1 754,1367.1 757.8,1367.1 761.6,1367.1 765.4,1367.1 769.2,1367.1 773,1367.1 776.8,1367.1 780.6,1367.1 784.4,1367.1 788.2,1367.1 792,1367.1 795.8,1367.1 799.5,1367.1 803.3,1367.1 807.1,1367.1 810.9,1367.1 814.7,1367.1 818.5,1367.1 822.3,1367.1 826.1,1367.1 829.9,1367.1 833.7,1367.1 837.5,1367.1 841.3,1367.1 845.1,1367.1 848.9,1367.1 852.6,1367.1 856.4,1367.1 860.2,1367.1 864,1367.1 867.8,1367.1 871.6,1367.1 875.4,1367.1 879.2,1367.1 883,1367.1 886.8,1344.3 890.6,1321.5 894.4,1298.7 898.2,1275.9 902,1253.1 905.7,1230.3 909.5,1207.5 913.3,1184.7 917.1,1161.9 920.9,1139.1 924.7,1116.3 928.5,1093.5 932.3,1105 936.1,1116 939.9,1126.5 943.7,1136.6 947.5,1146.2 951.3,1155.5 955,1164.3 958.8,1172.8 962.6,1181 966.4,1188.8 970.2,1196.2 974,1203.4 977.8,1210.2 981.6,1216.8 985.4,1223.1 989.2,1229.1 993,1234.9 996.8,1240.5 1000.6,1245.8 1004.4,1250.8 1008.1,1255.7 1011.9,1260.4 1015.7,1264.8 1019.5,1269.1 1023.3,1273.2 1027.1,1277.2 1030.9,1280.9 1034.7,1284.5 1038.5,1288 1042.3,1291.3 1046.1,1294.5 1049.9,1297.5 1053.7,1300.4 1057.5,1303.2 1061.2,1305.9 1065,1308.5 1068.8,1310.9 1072.6,1313.3 1076.4,1315.5 1080.2,1317.7 1084,1319.8 1087.8,1321.7 1091.6,1323.6 1095.4,1325.5 1099.2,1327.2 1103,1328.9 1106.8,1330.5 1110.5,1332 1114.3,1333.5 1118.1,1334.9 1121.9,1336.2 1125.7,1337.5 1129.5,1338.8 1133.3,1340 1137.1,1341.1 1140.9,1342.2 1144.7,1343.2 1148.5,1344.2 1152.3,1345.2 1156.1,1346.1 1159.9,1347 1163.6,1347.8 1167.4,1348.6 1171.2,1349.4 1175,1350.1 1178.8,1350.9 1182.6,1351.5 1186.4,1352.2 1190.2,1352.8 1194,1353.4 1197.8,1354 1201.6,1354.5 1205.4,1355.1 1209.2,1355.6 1213,1356 1216.7,1356.5 1220.5,1357 1224.3,1357.4 1228.1,1357.8 1231.9,1358.2 1235.7,1358.6 1239.5,1358.9 1243.3,1359.3 1247.1,1359.6 1250.9,1359.9 1254.7,1360.2 1258.5,1360.5 1262.3,1360.8 1266.1,1361 1269.8,1361.3 1273.6,1361.5 1277.4,1361.8 1281.2,1362 1285,1362.2 1288.8,1362.4 1291.8,1362.6" stroke="#1414c8" stroke-width="2.85" fill="none" stroke-linejoin="miter" stroke-miterlimit="10"/>
<polyline points="200.3,1332 204.1,1333.5 207.9,1334.9 211.7,1336.2 215.5,1337.5 219.3,1338.8 223.1,1340 226.8,1341.1 230.6,1342.2 234.4,1343.2 238.2,1344.2 242,1345.2 245.8,1346.1 249.6,1347 253.4,1347.8 257.2,1348.6 261,1349.4 264.8,1350.1 268.6,1350.9 272.4,1351.5 276.2,1352.2 279.9,1352.8 283.7,1353.4 287.5,1354 291.3,1354.5 295.1,1355.1 298.9,1355.6 302.7,1356 306.5,1356.5 310.3,1357 314.1,1357.4 317.9,1357.8 321.7,1358.2 325.5,1358.6 329.3,1358.9 333,1359.3 336.8,1359.6 340.6,1359.9 344.4,1360.2 348.2,1360.5 352,1360.8 355.8,1361 359.6,1361.3 363.4,1361.5 367.2,1361.8 371,1362 374.8,1362.2 378.6,1362.4 382.4,1362.6 386.1,1362.8 389.9,1363 393.7,1363.1 397.5,1363.3 401.3,1363.5 405.1,1363.6 408.9,1363.8 412.7,1363.9 416.5,1364 420.3,1364.2 424.1,1364.3 427.9,1364.4 431.7,1364.5 435.4,1364.6 439.2,1364.7 443,1364.8 446.8,1364.9 450.6,1365 454.4,1365.1 458.2,1365.2 462,1365.3 465.8,1365.3 469.6,1365.4 473.4,1365.5 477.2,1365.6 481,1365.6 484.8,1365.7 488.5,1365.7 492.3,1365.8 496.1,1365.9 499.9,1365.9 503.7,1366 507.5,1366 511.3,1366 515.1,1366.1 518.9,1366.1 522.7,1366.2 526.5,1366.2 530.3,1366.3 534.1,1366.3 537.9,1366.3 541.6,1366.4 545.4,1366.4 549.2,1366.4 553,1366.4 556.8,1366.5 560.6,1366.5 564.4,1366.5 568.2,1366.5 572,1366.6 575.8,1366.6 579.6,1366.6 583.4,1366.6 587.2,1366.7 590.9,1366.7 594.7,1366.7 598.5,1366.7 602.3,1366.7 606.1,1366.7 609.9,1366.8 613.7,1366.8 617.5,1366.8 621.3,1366.8 625.1,1366.8 628.9,1366.8 632.7,1366.8 636.5,1366.8 640.3,1366.9 644,1366.9 647.8,1366.9 651.6,1366.9 655.4,1366.9 659.2,1366.9 663,1366.9 666.8,1366.9 670.6,1366.9 674.4,1366.9 678.2,1366.9 682,1366.9 685.8,1367 689.6,1367 693.4,1367 697.1,1367 700.9,1367 704.7,1367 708.5,1367 712.3,1367 716.1,1367 719.9,1367 723.7,1367 727.5,1367 731.3,1367 735.1,1367 738.9,1367 742.7,1367 746.5,1367 750.2,1367 754,1367 757.8,1367 761.6,1367 765.4,1367 769.2,1367 773,1367 776.8,1367 780.6,1367 784.4,1367.1 788.2,1367.1 792,1367.1 795.8,1367.1 799.5,1367.1 803.3,1367.1 807.1,1367.1 810.9,1367.1 814.7,1367.1 818.5,1367.1 822.3,1367.1 826.1,1367.1 829.9,1367.1 833.7,1367.1 837.5,1367.1 841.3,1367.1 845.1,1367.1 848.9,1367.1 852.6,1367.1 856.4,1367.1 860.2,1367.1 864,1367.1 867.8,1367.1 871.6,1367.1 875.4,1367.1 879.2,1367.1 883,1367.1 886.8,1367.1 890.6,1367.1 894.4,1367.1 898.2,1367.1 902,1367.1 905.7,1367.1 909.5,1367.1 913.3,1367.1 917.1,1367.1 920.9,1367.1 924.7,1367.1 928.5,1367.1 932.3,1367.1 936.1,1367.1 939.9,1367.1 943.7,1367.1 947.5,1367.1 951.3,1367.1 955,1367.1 958.8,1367.1 962.6,1367.1 966.4,1367.1 970.2,1367.1 974,1367.1 977.8,1367.1 981.6,1367.1 985.4,1367.1 989.2,1367.1 993,1367.1 996.8,1367.1 1000.6,1367.1 1004.4,1367.1 1008.1,1367.1 1011.9,1367.1 1015.7,1367.1 1019.5,1367.1 1023.3,1367.1 1027.1,1367.1 1030.9,1367.1 1034.7,1367.1 1038.5,1367.1 1042.3,1367.1 1046.1,1367.1 1049.9,1367.1 1053.7,1367.1 1057.5,1367.1 1061.2,1367.1 1065,1367.1 1068.8,1344.3 1072.6,1321.5 1076.4,1298.7 1080.2,1275.9 1084,1253.1 1087.8,1230.3 1091.6,1207.5 1095.4,1184.7 1099.2,1161.9 1103,1139.1 1106.8,1116.3 1110.5,1093.5 1114.3,1105 1118.1,1116 1121.9,1126.5 1125.7,1136.6 1129.5,1146.2 1133.3,1155.5 1137.1,1164.3 1140.9,1172.8 1144.7,1181 1148.5,1188.8 1152.3,1196.2 1156.1,1203.4 1159.9,1210.2 1163.6,1216.8 1167.4,1223.1 1171.2,1229.1 1175,1234.9 1178.8,1240.5 1182.6,1245.8 1186.4,1250.8 1190.2,1255.7 1194,1260.4 1197.8,1264.8 1201.6,1269.1 1205.4,1273.2 1209.2,1277.2 1213,1280.9 1216.7,1284.5 1220.5,1288 1224.3,1291.3 1228.1,1294.5 1231.9,1297.5 1235.7,1300.4 1239.5,1303.2 1243.3,1305.9 1247.1,1308.5 1250.9,1310.9 1254.7,1313.3 1258.5,1315.5 1262.3,1317.7 1266.1,1319.8 1269.8,1321.7 1273.6,1323.6 1277.4,1325.5 1281.2,1327.2 1285,1328.9 1288.8,1330.5 1291.8,1331.7" stroke="#a9a94a" stroke-width="2.85" fill="none" stroke-linejoin="miter" stroke-miterlimit="10"/>
<polyline points="200.3,1203 204.1,1209.8 207.9,1216.4 211.7,1222.7 215.5,1228.8 219.3,1234.6 223.1,1240.1 226.8,1245.4 230.6,1250.5 234.4,1255.4 238.2,1260.1 242,1264.6 245.8,1268.9 249.6,1273 253.4,1276.9 257.2,1280.7 261,1284.3 264.8,1287.8 268.6,1291.1 272.4,1294.3 276.2,1297.3 279.9,1300.3 283.7,1303.1 287.5,1305.7 291.3,1308.3 295.1,1310.8 298.9,1313.1 302.7,1315.4 306.5,1317.6 310.3,1319.6 314.1,1321.6 317.9,1323.5 321.7,1325.4 325.5,1327.1 329.3,1328.8 333,1330.4 336.8,1331.9 340.6,1333.4 344.4,1334.8 348.2,1336.2 352,1337.5 355.8,1338.7 359.6,1339.9 363.4,1341 367.2,1342.1 371,1343.2 374.8,1344.2 378.6,1345.1 382.4,1346 386.1,1346.9 389.9,1347.8 393.7,1348.6 397.5,1349.4 401.3,1350.1 405.1,1350.8 408.9,1351.5 412.7,1352.2 416.5,1352.8 420.3,1353.4 424.1,1354 427.9,1354.5 431.7,1355 435.4,1355.5 439.2,1356 443,1356.5 446.8,1356.9 450.6,1357.4 454.4,1357.8 458.2,1358.2 462,1358.5 465.8,1358.9 469.6,1359.2 473.4,1359.6 477.2,1359.9 481,1360.2 484.8,1360.5 488.5,1360.7 492.3,1361 496.1,1361.3 499.9,1361.5 503.7,1361.7 507.5,1362 511.3,1362.2 515.1,1362.4 518.9,1362.6 522.7,1362.8 526.5,1363 530.3,1363.1 534.1,1363.3 537.9,1363.5 541.6,1363.6 545.4,1363.8 549.2,1363.9 553,1364 556.8,1364.2 560.6,1364.3 564.4,1364.4 568.2,1364.5 572,1364.6 575.8,1364.7 579.6,1364.8 583.4,1364.9 587.2,1365 590.9,1365.1 594.7,1365.2 598.5,1365.3 602.3,1365.3 606.1,1365.4 609.9,1365.5 613.7,1365.6 617.5,1365.6 621.3,1365.7 625.1,1365.7 628.9,1365.8 632.7,1365.9 636.5,1365.9 640.3,1366 644,1366 647.8,1366 651.6,1366.1 655.4,1366.1 659.2,1366.2 663,1366.2 666.8,1366.2 670.6,1366.3 674.4,1366.3 678.2,1366.4 682,1366.4 685.8,1366.4 689.6,1366.4 693.4,1366.5 697.1,1366.5 700.9,1366.5 704.7,1366.5 708.5,1366.6 712.3,1366.6 716.1,1366.6 719.9,1366.6 723.7,1366.7 727.5,1366.7 731.3,1366.7 735.1,1366.7 738.9,1366.7 742.7,1366.7 746.5,1366.8 750.2,1366.8 754,1366.8 757.8,1366.8 761.6,1366.8 765.4,1366.8 769.2,1366.8 773,1366.8 776.8,1366.9 780.6,1366.9 784.4,1366.9 788.2,1366.9 792,1366.9 795.8,1366.9 799.5,1366.9 803.3,1366.9 807.1,1366.9 810.9,1366.9 814.7,1366.9 818.5,1366.9 822.3,1367 826.1,1367 829.9,1367 833.7,1367 837.5,1367 841.3,1367 845.1,1367 848.9,1367 852.6,1367 856.4,1367 860.2,1367 864,1367 867.8,1367 871.6,1367 875.4,1367 879.2,1367 883,1367 886.8,1367 890.6,1367 894.4,1367 898.2,1367 902,1367 905.7,1367 909.5,1367 913.3,1367 917.1,1367 920.9,1367.1 924.7,1367.1 928.5,1367.1 932.3,1367.1 936.1,1367.1 939.9,1367.1 943.7,1367.1 947.5,1367.1 951.3,1367.1 955,1367.1 958.8,1367.1 962.6,1367.1 966.4,1367.1 970.2,1367.1 974,1367.1 977.8,1367.1 981.6,1367.1 985.4,1367.1 989.2,1367.1 993,1367.1 996.8,1367.1 1000.6,1367.1 1004.4,1367.1 1008.1,1367.1 1011.9,1367.1 1015.7,1367.1 1019.5,1367.1 1023.3,1367.1 1027.1,1367.1 1030.9,1367.1 1034.7,1367.1 1038.5,1367.1 1042.3,1367.1 1046.1,1367.1 1049.9,1367.1 1053.7,1367.1 1057.5,1367.1 1061.2,1367.1 1065,1367.1 1068.8,1367.1 1072.6,1367.1 1076.4,1367.1 1080.2,1367.1 1084,1367.1 1087.8,1367.1 1091.6,1367.1 1095.4,1367.1 1099.2,1367.1 1103,1367.1 1106.8,1367.1 1110.5,1367.1 1114.3,1367.1 1118.1,1367.1 1121.9,1367.1 1125.7,1367.1 1129.5,1367.1 1133.3,1367.1 1137.1,1367.1 1140.9,1367.1 1144.7,1367.1 1148.5,1367.1 1152.3,1367.1 1156.1,1367.1 1159.9,1367.1 1163.6,1367.1 1167.4,1367.1 1171.2,1367.1 1175,1367.1 1178.8,1367.1 1182.6,1367.1 1186.4,1367.1 1190.2,1367.1 1194,1367.1 1197.8,1367.1 1201.6,1367.1 1205.4,1367.1 1209.2,1367.1 1213,1367.1 1216.7,1367.1 1220.5,1367.1 1224.3,1367.1 1228.1,1367.1 1231.9,1367.1 1235.7,1367.1 1239.5,1367.1 1243.3,1367.1 1247.1,1367.1 1250.9,1353.4 1254.7,1339.7 1258.5,1326.1 1262.3,1312.4 1266.1,1298.7 1269.8,1285 1273.6,1271.3 1277.4,1257.7 1281.2,1244 1285,1230.3 1288.8,1216.6 1291.8,1205.7" stroke="#5a9f9f" stroke-width="2.85" fill="none" stroke-linejoin="miter" stroke-miterlimit="10"/>
<polyline points="200.3,1355.9 1291.8,1355.9" stroke="#7a2c94" stroke-width="2.85" fill="none" stroke-linejoin="miter" stroke-miterlimit="10"/>
<polyline points="200.3,1151.5 204.1,1160 207.9,1168.3 211.7,1176.1 215.5,1183.6 219.3,1190.9 223.1,1197.8 226.8,1204.4 230.6,1210.7 234.4,1216.8 238.2,1222.6 242,1228.2 245.8,1233.6 249.6,1238.7 253.4,1243.6 257.2,1248.3 261,1252.8 264.8,1257.1 268.6,1261.3 272.4,1265.2 276.2,1269 279.9,1272.7 283.7,1276.1 287.5,1279.5 291.3,1282.7 295.1,1285.8 298.9,1288.7 302.7,1291.5 306.5,1294.2 310.3,1296.8 314.1,1299.3 317.9,1301.6 321.7,1303.9 325.5,1306.1 329.3,1308.2 333,1310.2 336.8,1312.1 340.6,1313.9 344.4,1315.7 348.2,1317.4 352,1319 355.8,1320.5 359.6,1322 363.4,1323.4 367.2,1324.8 371,1326.1 374.8,1327.3 378.6,1328.5 382.4,1329.7 386.1,1330.8 389.9,1331.8 393.7,1332.8 397.5,1333.8 401.3,1334.7 405.1,1335.6 408.9,1336.5 412.7,1337.3 416.5,1338 420.3,1338.8 424.1,1339.5 427.9,1340.2 431.7,1340.9 435.4,1341.5 439.2,1342.1 443,1342.7 446.8,1343.2 450.6,1343.7 454.4,1344.3 458.2,1344.7 462,1345.2 465.8,1345.7 469.6,1346.1 473.4,1346.5 477.2,1346.9 481,1347.3 484.8,1347.6 488.5,1348 492.3,1348.3 496.1,1348.6 499.9,1348.9 503.7,1349.2 507.5,1349.5 511.3,1349.8 515.1,1350 518.9,1350.3 522.7,1323.1 526.5,1296 530.3,1268.9 534.1,1241.7 537.9,1214.6 541.6,1187.4 545.4,1160.2 549.2,1133 553,1105.8 556.8,1078.6 560.6,1051.4 564.4,1024.2 568.2,1038.1 572,1051.4 575.8,1064.2 579.6,1076.4 583.4,1088.1 587.2,1099.3 590.9,1110.1 594.7,1120.4 598.5,1130.2 602.3,1139.7 606.1,1148.7 609.9,1157.4 613.7,1165.7 617.5,1173.7 621.3,1181.3 625.1,1188.6 628.9,1195.6 632.7,1202.4 636.5,1208.8 640.3,1214.9 644,1220.8 647.8,1226.5 651.6,1231.9 655.4,1237.1 659.2,1242.1 663,1246.9 666.8,1251.4 670.6,1255.8 674.4,1260 678.2,1264 682,1267.9 685.8,1271.5 689.6,1275.1 693.4,1278.5 697.1,1281.7 700.9,1284.8 704.7,1265 708.5,1245 712.3,1225 716.1,1204.8 719.9,1184.5 723.7,1164.1 727.5,1143.6 731.3,1123 735.1,1102.3 738.9,1081.6 742.7,1060.7 746.5,1039.8 750.2,1053 754,1065.7 757.8,1077.9 761.6,1089.5 765.4,1100.7 769.2,1111.3 773,1121.6 776.8,1131.4 780.6,1140.8 784.4,1149.8 788.2,1158.4 792,1166.7 795.8,1174.6 799.5,1182.2 803.3,1189.5 807.1,1196.5 810.9,1203.1 814.7,1209.5 818.5,1215.7 822.3,1221.5 826.1,1227.2 829.9,1232.6 833.7,1237.7 837.5,1242.7 841.3,1247.4 845.1,1252 848.9,1256.3 852.6,1260.5 856.4,1264.5 860.2,1268.3 864,1272 867.8,1275.5 871.6,1278.9 875.4,1282.1 879.2,1285.2 883,1288.1 886.8,1268.2 890.6,1248.1 894.4,1227.9 898.2,1207.6 902,1187.2 905.7,1166.7 909.5,1146.1 913.3,1125.4 917.1,1104.6 920.9,1083.7 924.7,1062.8 928.5,1041.8 932.3,1054.9 936.1,1067.5 939.9,1079.6 943.7,1091.2 947.5,1102.3 951.3,1112.9 955,1123.1 958.8,1132.8 962.6,1142.2 966.4,1151.1 970.2,1159.7 974,1167.9 977.8,1175.8 981.6,1183.3 985.4,1190.6 989.2,1197.5 993,1204.1 996.8,1210.5 1000.6,1216.6 1004.4,1222.4 1008.1,1228 1011.9,1233.3 1015.7,1238.5 1019.5,1243.4 1023.3,1248.1 1027.1,1252.6 1030.9,1256.9 1034.7,1261.1 1038.5,1265.1 1042.3,1268.9 1046.1,1272.5 1049.9,1276 1053.7,1279.3 1057.5,1282.6 1061.2,1285.6 1065,1288.6 1068.8,1268.6 1072.6,1248.5 1076.4,1228.3 1080.2,1208 1084,1187.5 1087.8,1167 1091.6,1146.4 1095.4,1125.7 1099.2,1104.9 1103,1084 1106.8,1063.1 1110.5,1042 1114.3,1055.2 1118.1,1067.8 1121.9,1079.8 1125.7,1091.4 1129.5,1102.5 1133.3,1113.1 1137.1,1123.3 1140.9,1133 1144.7,1142.3 1148.5,1151.3 1152.3,1159.8 1156.1,1168.1 1159.9,1175.9 1163.6,1183.5 1167.4,1190.7 1171.2,1197.6 1175,1204.2 1178.8,1210.6 1182.6,1216.7 1186.4,1222.5 1190.2,1228.1 1194,1233.4 1197.8,1238.6 1201.6,1243.5 1205.4,1248.2 1209.2,1252.7 1213,1257 1216.7,1261.2 1220.5,1265.1 1224.3,1268.9 1228.1,1272.6 1231.9,1276.1 1235.7,1279.4 1239.5,1282.6 1243.3,1285.7 1247.1,1288.6 1250.9,1277.8 1254.7,1266.8 1258.5,1255.7 1262.3,1244.5 1266.1,1233.2 1269.8,1221.8 1273.6,1210.3 1277.4,1198.7 1281.2,1187 1285,1175.2 1288.8,1163.4 1291.8,1153.9" stroke="#000" stroke-width="3.3" fill="none" stroke-linejoin="miter" stroke-miterlimit="10"/>
<path d="M200.3 929.4V1367.1H1292.6" stroke="#000" stroke-width="2.9" fill="none"/>
<text class="n"><tspan x="142.36" y="1368.6" font-size="17.80" textLength="13.48" lengthAdjust="spacingAndGlyphs">0</tspan></text>
<text class="n"><tspan x="142.96" y="1328.53" font-size="23.90" textLength="11.88" lengthAdjust="spacingAndGlyphs">4</tspan><tspan x="154.71" y="1324.83" font-size="17.80" textLength="13.48" lengthAdjust="spacingAndGlyphs">0</tspan></text>
<text class="n"><tspan x="142.41" y="1281.06" font-size="23.44" textLength="12.88" lengthAdjust="spacingAndGlyphs">8</tspan><tspan x="155.06" y="1281.06" font-size="17.80" textLength="13.48" lengthAdjust="spacingAndGlyphs">0</tspan></text>
<text class="n"><tspan x="141.79" y="1237.28" font-size="18.21" textLength="10.83" lengthAdjust="spacingAndGlyphs">1</tspan><tspan x="151.4" y="1237.28" font-size="18.15" textLength="12.5" lengthAdjust="spacingAndGlyphs">2</tspan><tspan x="163.31" y="1237.28" font-size="17.80" textLength="13.48" lengthAdjust="spacingAndGlyphs">0</tspan></text>
<text class="n"><tspan x="141.79" y="1193.51" font-size="18.21" textLength="10.83" lengthAdjust="spacingAndGlyphs">1</tspan><tspan x="151.49" y="1193.51" font-size="23.55" textLength="12.32" lengthAdjust="spacingAndGlyphs">6</tspan><tspan x="163.31" y="1193.51" font-size="17.80" textLength="13.48" lengthAdjust="spacingAndGlyphs">0</tspan></text>
<text class="n"><tspan x="142.15" y="1149.74" font-size="18.15" textLength="12.5" lengthAdjust="spacingAndGlyphs">2</tspan><tspan x="154.06" y="1149.74" font-size="17.80" textLength="13.48" lengthAdjust="spacingAndGlyphs">0</tspan><tspan x="167.26" y="1149.74" font-size="17.80" textLength="13.48" lengthAdjust="spacingAndGlyphs">0</tspan></text>
<text class="n"><tspan x="142.15" y="1105.97" font-size="18.15" textLength="12.5" lengthAdjust="spacingAndGlyphs">2</tspan><tspan x="154.21" y="1109.67" font-size="23.90" textLength="11.88" lengthAdjust="spacingAndGlyphs">4</tspan><tspan x="165.96" y="1105.97" font-size="17.80" textLength="13.48" lengthAdjust="spacingAndGlyphs">0</tspan></text>
<text class="n"><tspan x="142.15" y="1062.2" font-size="18.15" textLength="12.5" lengthAdjust="spacingAndGlyphs">2</tspan><tspan x="154.11" y="1062.2" font-size="23.44" textLength="12.88" lengthAdjust="spacingAndGlyphs">8</tspan><tspan x="166.76" y="1062.2" font-size="17.80" textLength="13.48" lengthAdjust="spacingAndGlyphs">0</tspan></text>
<text class="n"><tspan x="142.33" y="1022.12" font-size="23.40" textLength="12.14" lengthAdjust="spacingAndGlyphs">3</tspan><tspan x="153.65" y="1018.42" font-size="18.15" textLength="12.5" lengthAdjust="spacingAndGlyphs">2</tspan><tspan x="165.56" y="1018.42" font-size="17.80" textLength="13.48" lengthAdjust="spacingAndGlyphs">0</tspan></text>
<text class="n"><tspan x="142.33" y="978.35" font-size="23.40" textLength="12.14" lengthAdjust="spacingAndGlyphs">3</tspan><tspan x="153.74" y="974.65" font-size="23.55" textLength="12.32" lengthAdjust="spacingAndGlyphs">6</tspan><tspan x="165.56" y="974.65" font-size="17.80" textLength="13.48" lengthAdjust="spacingAndGlyphs">0</tspan></text>
<text class="n"><tspan x="142.96" y="934.58" font-size="23.90" textLength="11.88" lengthAdjust="spacingAndGlyphs">4</tspan><tspan x="154.71" y="930.88" font-size="17.80" textLength="13.48" lengthAdjust="spacingAndGlyphs">0</tspan><tspan x="167.91" y="930.88" font-size="17.80" textLength="13.48" lengthAdjust="spacingAndGlyphs">0</tspan></text>
<text class="n"><tspan x="281.88" y="1390.2" font-size="18.15" textLength="12.5" lengthAdjust="spacingAndGlyphs">2</tspan></text>
<text class="n"><tspan x="373.21" y="1393.9" font-size="23.90" textLength="11.88" lengthAdjust="spacingAndGlyphs">4</tspan></text>
<text class="n"><tspan x="464.01" y="1390.2" font-size="23.55" textLength="12.32" lengthAdjust="spacingAndGlyphs">6</tspan></text>
<text class="n"><tspan x="554.76" y="1390.2" font-size="23.44" textLength="12.88" lengthAdjust="spacingAndGlyphs">8</tspan></text>
<text class="n"><tspan x="640.24" y="1390.2" font-size="18.21" textLength="10.83" lengthAdjust="spacingAndGlyphs">1</tspan><tspan x="650.16" y="1390.2" font-size="17.80" textLength="13.48" lengthAdjust="spacingAndGlyphs">0</tspan></text>
<text class="n"><tspan x="732.01" y="1390.2" font-size="18.21" textLength="10.83" lengthAdjust="spacingAndGlyphs">1</tspan><tspan x="741.62" y="1390.2" font-size="18.15" textLength="12.5" lengthAdjust="spacingAndGlyphs">2</tspan></text>
<text class="n"><tspan x="822.71" y="1390.2" font-size="18.21" textLength="10.83" lengthAdjust="spacingAndGlyphs">1</tspan><tspan x="832.79" y="1393.9" font-size="23.90" textLength="11.88" lengthAdjust="spacingAndGlyphs">4</tspan></text>
<text class="n"><tspan x="913.94" y="1390.2" font-size="18.21" textLength="10.83" lengthAdjust="spacingAndGlyphs">1</tspan><tspan x="923.64" y="1390.2" font-size="23.55" textLength="12.32" lengthAdjust="spacingAndGlyphs">6</tspan></text>
<text class="n"><tspan x="1004.59" y="1390.2" font-size="18.21" textLength="10.83" lengthAdjust="spacingAndGlyphs">1</tspan><tspan x="1014.56" y="1390.2" font-size="23.44" textLength="12.88" lengthAdjust="spacingAndGlyphs">8</tspan></text>
<text class="n"><tspan x="1094.55" y="1390.2" font-size="18.15" textLength="12.5" lengthAdjust="spacingAndGlyphs">2</tspan><tspan x="1106.46" y="1390.2" font-size="17.80" textLength="13.48" lengthAdjust="spacingAndGlyphs">0</tspan></text>
<text class="n"><tspan x="1186.33" y="1390.2" font-size="18.15" textLength="12.5" lengthAdjust="spacingAndGlyphs">2</tspan><tspan x="1197.92" y="1390.2" font-size="18.15" textLength="12.5" lengthAdjust="spacingAndGlyphs">2</tspan></text>
<text class="n"><tspan x="1277.02" y="1390.2" font-size="18.15" textLength="12.5" lengthAdjust="spacingAndGlyphs">2</tspan><tspan x="1289.09" y="1393.9" font-size="23.90" textLength="11.88" lengthAdjust="spacingAndGlyphs">4</tspan></text>
<text x="117.3" y="878" font-size="22.5" textLength="86" lengthAdjust="spacingAndGlyphs">LED(mg)</text>
<text x="356.3" y="877.7" font-size="22.5" textLength="563.5" lengthAdjust="spacingAndGlyphs">Graph of exogenous plasma levodopa equivalent against time</text>
<text x="844.3" y="1450.8" font-size="22.5" textLength="111.5" lengthAdjust="spacingAndGlyphs">Time (hour)</text>
<path d="M1628.6 929.6V1372.6M1674.6 929.6V1372.6M1720.6 929.6V1372.6M1766.6 929.6V1372.6M1812.6 929.6V1372.6M1858.6 929.6V1372.6M1904.6 929.6V1372.6M1950.6 929.6V1372.6M1996.6 929.6V1372.6M2042.6 929.6V1372.6M2088.6 929.6V1372.6M2134.6 929.6V1372.6M2180.6 929.6V1372.6M2226.6 929.6V1372.6M2272.6 929.6V1372.6M2318.6 929.6V1372.6M2364.6 929.6V1372.6M2410.6 929.6V1372.6M2456.6 929.6V1372.6M2502.6 929.6V1372.6M2548.6 929.6V1372.6M2594.6 929.6V1372.6M2640.6 929.6V1372.6M2686.6 929.6V1372.6M1582.6 1328.3H2686.6M1582.6 1284H2686.6M1582.6 1239.7H2686.6M1582.6 1195.4H2686.6M1582.6 1151.1H2686.6M1582.6 1106.8H2686.6M1582.6 1062.5H2686.6M1582.6 1018.2H2686.6M1582.6 973.9H2686.6M1582.6 929.6H2686.6" stroke="#dcdcdc" stroke-width="1.5" fill="none"/>
<polyline points="1582.6,1372.5 1586.4,1372.5 1590.3,1372.5 1594.1,1372.5 1597.9,1372.5 1601.8,1372.5 1605.6,1372.5 1609.4,1372.5 1613.3,1372.5 1617.1,1372.5 1620.9,1372.5 1624.8,1372.5 1628.6,1372.5 1632.4,1372.5 1636.3,1372.5 1640.1,1372.5 1643.9,1372.5 1647.8,1372.6 1651.6,1372.6 1655.4,1372.6 1659.3,1372.6 1663.1,1372.6 1666.9,1372.6 1670.8,1372.6 1674.6,1372.6 1678.4,1372.6 1682.3,1372.6 1686.1,1372.6 1689.9,1372.6 1693.8,1372.6 1697.6,1372.6 1701.4,1372.6 1705.3,1372.6 1709.1,1372.6 1712.9,1372.6 1716.8,1372.6 1720.6,1372.6 1724.4,1372.6 1728.3,1372.6 1732.1,1372.6 1735.9,1372.6 1739.8,1372.6 1743.6,1372.6 1747.4,1372.6 1751.3,1372.6 1755.1,1372.6 1758.9,1372.6 1762.8,1372.6 1766.6,1372.6 1770.4,1372.6 1774.3,1372.6 1778.1,1372.6 1781.9,1372.6 1785.8,1372.6 1789.6,1372.6 1793.4,1372.6 1797.3,1372.6 1801.1,1372.6 1804.9,1372.6 1808.8,1372.6 1812.6,1372.6 1816.4,1372.6 1820.3,1372.6 1824.1,1372.6 1827.9,1372.6 1831.8,1372.6 1835.6,1372.6 1839.4,1372.6 1843.3,1372.6 1847.1,1372.6 1850.9,1372.6 1854.8,1372.6 1858.6,1372.6 1862.4,1372.6 1866.3,1372.6 1870.1,1372.6 1873.9,1372.6 1877.8,1372.6 1881.6,1372.6 1885.4,1372.6 1889.3,1372.6 1893.1,1372.6 1896.9,1372.6 1900.8,1372.6 1904.6,1372.6 1908.4,1341.8 1912.3,1311.1 1916.1,1280.3 1919.9,1249.5 1923.8,1218.8 1927.6,1188 1931.4,1157.2 1935.3,1126.5 1939.1,1095.7 1942.9,1065 1946.8,1034.2 1950.6,1003.4 1954.4,1018.9 1958.3,1033.7 1962.1,1047.9 1965.9,1061.5 1969.8,1074.5 1973.6,1087 1977.4,1099 1981.3,1110.4 1985.1,1121.4 1988.9,1131.9 1992.8,1142 1996.6,1151.7 2000.4,1160.9 2004.3,1169.8 2008.1,1178.3 2011.9,1186.4 2015.8,1194.2 2019.6,1201.7 2023.4,1208.9 2027.3,1215.7 2031.1,1222.3 2034.9,1228.6 2038.8,1234.6 2042.6,1240.4 2046.4,1245.9 2050.3,1251.2 2054.1,1256.3 2057.9,1261.2 2061.8,1265.9 2065.6,1270.3 2069.4,1274.6 2073.3,1278.7 2077.1,1282.6 2080.9,1286.4 2084.8,1290 2088.6,1293.5 2092.4,1296.8 2096.3,1300 2100.1,1303 2103.9,1305.9 2107.8,1308.7 2111.6,1311.4 2115.4,1314 2119.3,1316.4 2123.1,1318.8 2126.9,1321 2130.8,1323.2 2134.6,1325.3 2138.4,1327.2 2142.3,1329.1 2146.1,1331 2149.9,1332.7 2153.8,1334.4 2157.6,1336 2161.4,1337.5 2165.3,1339 2169.1,1340.4 2172.9,1341.7 2176.8,1343 2180.6,1344.3 2184.4,1345.5 2188.3,1346.6 2192.1,1347.7 2195.9,1348.7 2199.8,1349.7 2203.6,1350.7 2207.4,1351.6 2211.3,1352.5 2215.1,1353.3 2218.9,1354.1 2222.8,1354.9 2226.6,1355.6 2230.4,1356.4 2234.3,1357 2238.1,1357.7 2241.9,1358.3 2245.8,1358.9 2249.6,1359.5 2253.4,1360 2257.3,1360.6 2261.1,1361.1 2264.9,1361.5 2268.8,1362 2272.6,1362.5 2276.4,1362.9 2280.3,1363.3 2284.1,1363.7 2287.9,1364 2291.8,1364.4 2295.6,1364.8 2299.4,1365.1 2303.3,1365.4 2307.1,1365.7 2310.9,1366 2314.8,1366.3 2318.6,1366.5 2322.4,1366.8 2326.3,1367 2330.1,1367.3 2333.9,1367.5 2337.8,1367.7 2341.6,1367.9 2345.4,1368.1 2349.3,1368.3 2353.1,1368.5 2356.9,1368.6 2360.8,1368.8 2364.6,1369 2368.4,1369.1 2372.3,1369.3 2376.1,1369.4 2379.9,1369.5 2383.8,1369.7 2387.6,1369.8 2391.4,1369.9 2395.3,1370 2399.1,1370.1 2402.9,1370.2 2406.8,1370.3 2410.6,1370.4 2414.4,1370.5 2418.3,1370.6 2422.1,1370.7 2425.9,1370.8 2429.8,1370.8 2433.6,1370.9 2437.4,1371 2441.3,1371.1 2445.1,1371.1 2448.9,1371.2 2452.8,1371.2 2456.6,1371.3 2460.4,1371.4 2464.3,1371.4 2468.1,1371.5 2471.9,1371.5 2475.8,1371.5 2479.6,1371.6 2483.4,1371.6 2487.3,1371.7 2491.1,1371.7 2494.9,1371.8 2498.8,1371.8 2502.6,1371.8 2506.4,1371.9 2510.3,1371.9 2514.1,1371.9 2517.9,1371.9 2521.8,1372 2525.6,1372 2529.4,1372 2533.3,1372 2537.1,1372.1 2540.9,1372.1 2544.8,1372.1 2548.6,1372.1 2552.4,1372.2 2556.3,1372.2 2560.1,1372.2 2563.9,1372.2 2567.8,1372.2 2571.6,1372.2 2575.4,1372.3 2579.3,1372.3 2583.1,1372.3 2586.9,1372.3 2590.8,1372.3 2594.6,1372.3 2598.4,1372.3 2602.3,1372.3 2606.1,1372.4 2609.9,1372.4 2613.8,1372.4 2617.6,1372.4 2621.4,1372.4 2625.3,1372.4 2629.1,1372.4 2632.9,1372.4 2636.8,1372.4 2640.6,1372.4 2644.4,1372.4 2648.3,1372.4 2652.1,1372.5 2655.9,1372.5 2659.8,1372.5 2663.6,1372.5 2667.4,1372.5 2671.3,1372.5 2675.1,1372.5 2678.9,1372.5 2682.8,1372.5 2685.8,1372.5" stroke="#c2412f" stroke-width="2.85" fill="none" stroke-linejoin="miter" stroke-miterlimit="10"/>
<polyline points="1582.6,1371.8 1586.4,1371.9 1590.3,1371.9 1594.1,1371.9 1597.9,1371.9 1601.8,1372 1605.6,1372 1609.4,1372 1613.3,1372 1617.1,1372.1 1620.9,1372.1 1624.8,1372.1 1628.6,1372.1 1632.4,1372.2 1636.3,1372.2 1640.1,1372.2 1643.9,1372.2 1647.8,1372.2 1651.6,1372.2 1655.4,1372.3 1659.3,1372.3 1663.1,1372.3 1666.9,1372.3 1670.8,1372.3 1674.6,1372.3 1678.4,1372.3 1682.3,1372.3 1686.1,1372.4 1689.9,1372.4 1693.8,1372.4 1697.6,1372.4 1701.4,1372.4 1705.3,1372.4 1709.1,1372.4 1712.9,1372.4 1716.8,1372.4 1720.6,1372.4 1724.4,1372.4 1728.3,1372.4 1732.1,1372.5 1735.9,1372.5 1739.8,1372.5 1743.6,1372.5 1747.4,1372.5 1751.3,1372.5 1755.1,1372.5 1758.9,1372.5 1762.8,1372.5 1766.6,1372.5 1770.4,1372.5 1774.3,1372.5 1778.1,1372.5 1781.9,1372.5 1785.8,1372.5 1789.6,1372.5 1793.4,1372.5 1797.3,1372.5 1801.1,1372.5 1804.9,1372.5 1808.8,1372.5 1812.6,1372.5 1816.4,1372.5 1820.3,1372.5 1824.1,1372.5 1827.9,1372.5 1831.8,1372.6 1835.6,1372.6 1839.4,1372.6 1843.3,1372.6 1847.1,1372.6 1850.9,1372.6 1854.8,1372.6 1858.6,1372.6 1862.4,1372.6 1866.3,1372.6 1870.1,1372.6 1873.9,1372.6 1877.8,1372.6 1881.6,1372.6 1885.4,1372.6 1889.3,1372.6 1893.1,1372.6 1896.9,1372.6 1900.8,1372.6 1904.6,1372.6 1908.4,1372.6 1912.3,1372.6 1916.1,1372.6 1919.9,1372.6 1923.8,1372.6 1927.6,1372.6 1931.4,1372.6 1935.3,1372.6 1939.1,1372.6 1942.9,1372.6 1946.8,1372.6 1950.6,1372.6 1954.4,1372.6 1958.3,1372.6 1962.1,1372.6 1965.9,1372.6 1969.8,1372.6 1973.6,1372.6 1977.4,1372.6 1981.3,1372.6 1985.1,1372.6 1988.9,1372.6 1992.8,1372.6 1996.6,1372.6 2000.4,1372.6 2004.3,1372.6 2008.1,1372.6 2011.9,1372.6 2015.8,1372.6 2019.6,1372.6 2023.4,1372.6 2027.3,1372.6 2031.1,1372.6 2034.9,1372.6 2038.8,1372.6 2042.6,1372.6 2046.4,1372.6 2050.3,1372.6 2054.1,1372.6 2057.9,1372.6 2061.8,1372.6 2065.6,1372.6 2069.4,1372.6 2073.3,1372.6 2077.1,1372.6 2080.9,1372.6 2084.8,1372.6 2088.6,1372.6 2092.4,1341.8 2096.3,1311.1 2100.1,1280.3 2103.9,1249.5 2107.8,1218.8 2111.6,1188 2115.4,1157.2 2119.3,1126.5 2123.1,1095.7 2126.9,1065 2130.8,1034.2 2134.6,1003.4 2138.4,1018.9 2142.3,1033.7 2146.1,1047.9 2149.9,1061.5 2153.8,1074.5 2157.6,1087 2161.4,1099 2165.3,1110.4 2169.1,1121.4 2172.9,1131.9 2176.8,1142 2180.6,1151.7 2184.4,1160.9 2188.3,1169.8 2192.1,1178.3 2195.9,1186.4 2199.8,1194.2 2203.6,1201.7 2207.4,1208.9 2211.3,1215.7 2215.1,1222.3 2218.9,1228.6 2222.8,1234.6 2226.6,1240.4 2230.4,1245.9 2234.3,1251.2 2238.1,1256.3 2241.9,1261.2 2245.8,1265.9 2249.6,1270.3 2253.4,1274.6 2257.3,1278.7 2261.1,1282.6 2264.9,1286.4 2268.8,1290 2272.6,1293.5 2276.4,1296.8 2280.3,1300 2284.1,1303 2287.9,1305.9 2291.8,1308.7 2295.6,1311.4 2299.4,1314 2303.3,1316.4 2307.1,1318.8 2310.9,1321 2314.8,1323.2 2318.6,1325.3 2322.4,1327.2 2326.3,1329.1 2330.1,1331 2333.9,1332.7 2337.8,1334.4 2341.6,1336 2345.4,1337.5 2349.3,1339 2353.1,1340.4 2356.9,1341.7 2360.8,1343 2364.6,1344.3 2368.4,1345.5 2372.3,1346.6 2376.1,1347.7 2379.9,1348.7 2383.8,1349.7 2387.6,1350.7 2391.4,1351.6 2395.3,1352.5 2399.1,1353.3 2402.9,1354.1 2406.8,1354.9 2410.6,1355.6 2414.4,1356.4 2418.3,1357 2422.1,1357.7 2425.9,1358.3 2429.8,1358.9 2433.6,1359.5 2437.4,1360 2441.3,1360.6 2445.1,1361.1 2448.9,1361.5 2452.8,1362 2456.6,1362.5 2460.4,1362.9 2464.3,1363.3 2468.1,1363.7 2471.9,1364 2475.8,1364.4 2479.6,1364.8 2483.4,1365.1 2487.3,1365.4 2491.1,1365.7 2494.9,1366 2498.8,1366.3 2502.6,1366.5 2506.4,1366.8 2510.3,1367 2514.1,1367.3 2517.9,1367.5 2521.8,1367.7 2525.6,1367.9 2529.4,1368.1 2533.3,1368.3 2537.1,1368.5 2540.9,1368.6 2544.8,1368.8 2548.6,1369 2552.4,1369.1 2556.3,1369.3 2560.1,1369.4 2563.9,1369.5 2567.8,1369.7 2571.6,1369.8 2575.4,1369.9 2579.3,1370 2583.1,1370.1 2586.9,1370.2 2590.8,1370.3 2594.6,1370.4 2598.4,1370.5 2602.3,1370.6 2606.1,1370.7 2609.9,1370.8 2613.8,1370.8 2617.6,1370.9 2621.4,1371 2625.3,1371.1 2629.1,1371.1 2632.9,1371.2 2636.8,1371.2 2640.6,1371.3 2644.4,1371.4 2648.3,1371.4 2652.1,1371.5 2655.9,1371.5 2659.8,1371.5 2663.6,1371.6 2667.4,1371.6 2671.3,1371.7 2675.1,1371.7 2678.9,1371.8 2682.8,1371.8 2685.8,1371.8" stroke="#7ee63e" stroke-width="2.85" fill="none" stroke-linejoin="miter" stroke-miterlimit="10"/>
<polyline points="1582.6,1366.5 1586.4,1366.8 1590.3,1367 1594.1,1367.3 1597.9,1367.5 1601.8,1367.7 1605.6,1367.9 1609.4,1368.1 1613.3,1368.3 1617.1,1368.5 1620.9,1368.6 1624.8,1368.8 1628.6,1369 1632.4,1369.1 1636.3,1369.3 1640.1,1369.4 1643.9,1369.5 1647.8,1369.7 1651.6,1369.8 1655.4,1369.9 1659.3,1370 1663.1,1370.1 1666.9,1370.2 1670.8,1370.3 1674.6,1370.4 1678.4,1370.5 1682.3,1370.6 1686.1,1370.7 1689.9,1370.8 1693.8,1370.8 1697.6,1370.9 1701.4,1371 1705.3,1371.1 1709.1,1371.1 1712.9,1371.2 1716.8,1371.2 1720.6,1371.3 1724.4,1371.4 1728.3,1371.4 1732.1,1371.5 1735.9,1371.5 1739.8,1371.5 1743.6,1371.6 1747.4,1371.6 1751.3,1371.7 1755.1,1371.7 1758.9,1371.8 1762.8,1371.8 1766.6,1371.8 1770.4,1371.9 1774.3,1371.9 1778.1,1371.9 1781.9,1371.9 1785.8,1372 1789.6,1372 1793.4,1372 1797.3,1372 1801.1,1372.1 1804.9,1372.1 1808.8,1372.1 1812.6,1372.1 1816.4,1372.2 1820.3,1372.2 1824.1,1372.2 1827.9,1372.2 1831.8,1372.2 1835.6,1372.2 1839.4,1372.3 1843.3,1372.3 1847.1,1372.3 1850.9,1372.3 1854.8,1372.3 1858.6,1372.3 1862.4,1372.3 1866.3,1372.3 1870.1,1372.4 1873.9,1372.4 1877.8,1372.4 1881.6,1372.4 1885.4,1372.4 1889.3,1372.4 1893.1,1372.4 1896.9,1372.4 1900.8,1372.4 1904.6,1372.4 1908.4,1372.4 1912.3,1372.4 1916.1,1372.5 1919.9,1372.5 1923.8,1372.5 1927.6,1372.5 1931.4,1372.5 1935.3,1372.5 1939.1,1372.5 1942.9,1372.5 1946.8,1372.5 1950.6,1372.5 1954.4,1372.5 1958.3,1372.5 1962.1,1372.5 1965.9,1372.5 1969.8,1372.5 1973.6,1372.5 1977.4,1372.5 1981.3,1372.5 1985.1,1372.5 1988.9,1372.5 1992.8,1372.5 1996.6,1372.5 2000.4,1372.5 2004.3,1372.5 2008.1,1372.5 2011.9,1372.5 2015.8,1372.6 2019.6,1372.6 2023.4,1372.6 2027.3,1372.6 2031.1,1372.6 2034.9,1372.6 2038.8,1372.6 2042.6,1372.6 2046.4,1372.6 2050.3,1372.6 2054.1,1372.6 2057.9,1372.6 2061.8,1372.6 2065.6,1372.6 2069.4,1372.6 2073.3,1372.6 2077.1,1372.6 2080.9,1372.6 2084.8,1372.6 2088.6,1372.6 2092.4,1372.6 2096.3,1372.6 2100.1,1372.6 2103.9,1372.6 2107.8,1372.6 2111.6,1372.6 2115.4,1372.6 2119.3,1372.6 2123.1,1372.6 2126.9,1372.6 2130.8,1372.6 2134.6,1372.6 2138.4,1372.6 2142.3,1372.6 2146.1,1372.6 2149.9,1372.6 2153.8,1372.6 2157.6,1372.6 2161.4,1372.6 2165.3,1372.6 2169.1,1372.6 2172.9,1372.6 2176.8,1372.6 2180.6,1372.6 2184.4,1372.6 2188.3,1372.6 2192.1,1372.6 2195.9,1372.6 2199.8,1372.6 2203.6,1372.6 2207.4,1372.6 2211.3,1372.6 2215.1,1372.6 2218.9,1372.6 2222.8,1372.6 2226.6,1372.6 2230.4,1372.6 2234.3,1372.6 2238.1,1372.6 2241.9,1372.6 2245.8,1372.6 2249.6,1372.6 2253.4,1372.6 2257.3,1372.6 2261.1,1372.6 2264.9,1372.6 2268.8,1372.6 2272.6,1372.6 2276.4,1341.8 2280.3,1311.1 2284.1,1280.3 2287.9,1249.5 2291.8,1218.8 2295.6,1188 2299.4,1157.2 2303.3,1126.5 2307.1,1095.7 2310.9,1065 2314.8,1034.2 2318.6,1003.4 2322.4,1018.9 2326.3,1033.7 2330.1,1047.9 2333.9,1061.5 2337.8,1074.5 2341.6,1087 2345.4,1099 2349.3,1110.4 2353.1,1121.4 2356.9,1131.9 2360.8,1142 2364.6,1151.7 2368.4,1160.9 2372.3,1169.8 2376.1,1178.3 2379.9,1186.4 2383.8,1194.2 2387.6,1201.7 2391.4,1208.9 2395.3,1215.7 2399.1,1222.3 2402.9,1228.6 2406.8,1234.6 2410.6,1240.4 2414.4,1245.9 2418.3,1251.2 2422.1,1256.3 2425.9,1261.2 2429.8,1265.9 2433.6,1270.3 2437.4,1274.6 2441.3,1278.7 2445.1,1282.6 2448.9,1286.4 2452.8,1290 2456.6,1293.5 2460.4,1296.8 2464.3,1300 2468.1,1303 2471.9,1305.9 2475.8,1308.7 2479.6,1311.4 2483.4,1314 2487.3,1316.4 2491.1,1318.8 2494.9,1321 2498.8,1323.2 2502.6,1325.3 2506.4,1327.2 2510.3,1329.1 2514.1,1331 2517.9,1332.7 2521.8,1334.4 2525.6,1336 2529.4,1337.5 2533.3,1339 2537.1,1340.4 2540.9,1341.7 2544.8,1343 2548.6,1344.3 2552.4,1345.5 2556.3,1346.6 2560.1,1347.7 2563.9,1348.7 2567.8,1349.7 2571.6,1350.7 2575.4,1351.6 2579.3,1352.5 2583.1,1353.3 2586.9,1354.1 2590.8,1354.9 2594.6,1355.6 2598.4,1356.4 2602.3,1357 2606.1,1357.7 2609.9,1358.3 2613.8,1358.9 2617.6,1359.5 2621.4,1360 2625.3,1360.6 2629.1,1361.1 2632.9,1361.5 2636.8,1362 2640.6,1362.5 2644.4,1362.9 2648.3,1363.3 2652.1,1363.7 2655.9,1364 2659.8,1364.4 2663.6,1364.8 2667.4,1365.1 2671.3,1365.4 2675.1,1365.7 2678.9,1366 2682.8,1366.3 2685.8,1366.5" stroke="#1414c8" stroke-width="2.85" fill="none" stroke-linejoin="miter" stroke-miterlimit="10"/>
<polyline points="1582.6,1325.3 1586.4,1327.2 1590.3,1329.1 1594.1,1331 1597.9,1332.7 1601.8,1334.4 1605.6,1336 1609.4,1337.5 1613.3,1339 1617.1,1340.4 1620.9,1341.7 1624.8,1343 1628.6,1344.3 1632.4,1345.5 1636.3,1346.6 1640.1,1347.7 1643.9,1348.7 1647.8,1349.7 1651.6,1350.7 1655.4,1351.6 1659.3,1352.5 1663.1,1353.3 1666.9,1354.1 1670.8,1354.9 1674.6,1355.6 1678.4,1356.4 1682.3,1357 1686.1,1357.7 1689.9,1358.3 1693.8,1358.9 1697.6,1359.5 1701.4,1360 1705.3,1360.6 1709.1,1361.1 1712.9,1361.5 1716.8,1362 1720.6,1362.5 1724.4,1362.9 1728.3,1363.3 1732.1,1363.7 1735.9,1364 1739.8,1364.4 1743.6,1364.8 1747.4,1365.1 1751.3,1365.4 1755.1,1365.7 1758.9,1366 1762.8,1366.3 1766.6,1366.5 1770.4,1366.8 1774.3,1367 1778.1,1367.3 1781.9,1367.5 1785.8,1367.7 1789.6,1367.9 1793.4,1368.1 1797.3,1368.3 1801.1,1368.5 1804.9,1368.6 1808.8,1368.8 1812.6,1369 1816.4,1369.1 1820.3,1369.3 1824.1,1369.4 1827.9,1369.5 1831.8,1369.7 1835.6,1369.8 1839.4,1369.9 1843.3,1370 1847.1,1370.1 1850.9,1370.2 1854.8,1370.3 1858.6,1370.4 1862.4,1370.5 1866.3,1370.6 1870.1,1370.7 1873.9,1370.8 1877.8,1370.8 1881.6,1370.9 1885.4,1371 1889.3,1371.1 1893.1,1371.1 1896.9,1371.2 1900.8,1371.2 1904.6,1371.3 1908.4,1371.4 1912.3,1371.4 1916.1,1371.5 1919.9,1371.5 1923.8,1371.5 1927.6,1371.6 1931.4,1371.6 1935.3,1371.7 1939.1,1371.7 1942.9,1371.8 1946.8,1371.8 1950.6,1371.8 1954.4,1371.9 1958.3,1371.9 1962.1,1371.9 1965.9,1371.9 1969.8,1372 1973.6,1372 1977.4,1372 1981.3,1372 1985.1,1372.1 1988.9,1372.1 1992.8,1372.1 1996.6,1372.1 2000.4,1372.2 2004.3,1372.2 2008.1,1372.2 2011.9,1372.2 2015.8,1372.2 2019.6,1372.2 2023.4,1372.3 2027.3,1372.3 2031.1,1372.3 2034.9,1372.3 2038.8,1372.3 2042.6,1372.3 2046.4,1372.3 2050.3,1372.3 2054.1,1372.4 2057.9,1372.4 2061.8,1372.4 2065.6,1372.4 2069.4,1372.4 2073.3,1372.4 2077.1,1372.4 2080.9,1372.4 2084.8,1372.4 2088.6,1372.4 2092.4,1372.4 2096.3,1372.4 2100.1,1372.5 2103.9,1372.5 2107.8,1372.5 2111.6,1372.5 2115.4,1372.5 2119.3,1372.5 2123.1,1372.5 2126.9,1372.5 2130.8,1372.5 2134.6,1372.5 2138.4,1372.5 2142.3,1372.5 2146.1,1372.5 2149.9,1372.5 2153.8,1372.5 2157.6,1372.5 2161.4,1372.5 2165.3,1372.5 2169.1,1372.5 2172.9,1372.5 2176.8,1372.5 2180.6,1372.5 2184.4,1372.5 2188.3,1372.5 2192.1,1372.5 2195.9,1372.5 2199.8,1372.6 2203.6,1372.6 2207.4,1372.6 2211.3,1372.6 2215.1,1372.6 2218.9,1372.6 2222.8,1372.6 2226.6,1372.6 2230.4,1372.6 2234.3,1372.6 2238.1,1372.6 2241.9,1372.6 2245.8,1372.6 2249.6,1372.6 2253.4,1372.6 2257.3,1372.6 2261.1,1372.6 2264.9,1372.6 2268.8,1372.6 2272.6,1372.6 2276.4,1372.6 2280.3,1372.6 2284.1,1372.6 2287.9,1372.6 2291.8,1372.6 2295.6,1372.6 2299.4,1372.6 2303.3,1372.6 2307.1,1372.6 2310.9,1372.6 2314.8,1372.6 2318.6,1372.6 2322.4,1372.6 2326.3,1372.6 2330.1,1372.6 2333.9,1372.6 2337.8,1372.6 2341.6,1372.6 2345.4,1372.6 2349.3,1372.6 2353.1,1372.6 2356.9,1372.6 2360.8,1372.6 2364.6,1372.6 2368.4,1372.6 2372.3,1372.6 2376.1,1372.6 2379.9,1372.6 2383.8,1372.6 2387.6,1372.6 2391.4,1372.6 2395.3,1372.6 2399.1,1372.6 2402.9,1372.6 2406.8,1372.6 2410.6,1372.6 2414.4,1372.6 2418.3,1372.6 2422.1,1372.6 2425.9,1372.6 2429.8,1372.6 2433.6,1372.6 2437.4,1372.6 2441.3,1372.6 2445.1,1372.6 2448.9,1372.6 2452.8,1372.6 2456.6,1372.6 2460.4,1341.8 2464.3,1311.1 2468.1,1280.3 2471.9,1249.5 2475.8,1218.8 2479.6,1188 2483.4,1157.2 2487.3,1126.5 2491.1,1095.7 2494.9,1065 2498.8,1034.2 2502.6,1003.4 2506.4,1018.9 2510.3,1033.7 2514.1,1047.9 2517.9,1061.5 2521.8,1074.5 2525.6,1087 2529.4,1099 2533.3,1110.4 2537.1,1121.4 2540.9,1131.9 2544.8,1142 2548.6,1151.7 2552.4,1160.9 2556.3,1169.8 2560.1,1178.3 2563.9,1186.4 2567.8,1194.2 2571.6,1201.7 2575.4,1208.9 2579.3,1215.7 2583.1,1222.3 2586.9,1228.6 2590.8,1234.6 2594.6,1240.4 2598.4,1245.9 2602.3,1251.2 2606.1,1256.3 2609.9,1261.2 2613.8,1265.9 2617.6,1270.3 2621.4,1274.6 2625.3,1278.7 2629.1,1282.6 2632.9,1286.4 2636.8,1290 2640.6,1293.5 2644.4,1296.8 2648.3,1300 2652.1,1303 2655.9,1305.9 2659.8,1308.7 2663.6,1311.4 2667.4,1314 2671.3,1316.4 2675.1,1318.8 2678.9,1321 2682.8,1323.2 2685.8,1324.8" stroke="#a9a94a" stroke-width="2.85" fill="none" stroke-linejoin="miter" stroke-miterlimit="10"/>
<polyline points="1582.6,1313.5 1586.4,1308.6 1590.3,1303.7 1594.1,1298.8 1597.9,1293.8 1601.8,1288.9 1605.6,1284 1609.4,1279.1 1613.3,1274.2 1617.1,1269.2 1620.9,1264.3 1624.8,1259.4 1628.6,1254.5 1632.4,1257.4 1636.3,1260.3 1640.1,1263.1 1643.9,1265.8 1647.8,1268.5 1651.6,1271.1 1655.4,1273.6 1659.3,1276.1 1663.1,1278.5 1666.9,1280.9 1670.8,1283.2 1674.6,1285.4 1678.4,1287.6 1682.3,1289.7 1686.1,1291.8 1689.9,1293.8 1693.8,1295.8 1697.6,1297.7 1701.4,1299.5 1705.3,1301.4 1709.1,1303.2 1712.9,1304.9 1716.8,1306.6 1720.6,1308.2 1724.4,1309.8 1728.3,1311.4 1732.1,1312.9 1735.9,1314.4 1739.8,1315.9 1743.6,1317.3 1747.4,1318.7 1751.3,1320 1755.1,1321.3 1758.9,1322.6 1762.8,1323.9 1766.6,1325.1 1770.4,1326.3 1774.3,1327.4 1778.1,1328.6 1781.9,1329.7 1785.8,1330.7 1789.6,1331.8 1793.4,1332.8 1797.3,1333.8 1801.1,1334.8 1804.9,1335.7 1808.8,1336.6 1812.6,1337.5 1816.4,1338.4 1820.3,1339.3 1824.1,1340.1 1827.9,1340.9 1831.8,1341.7 1835.6,1342.5 1839.4,1343.2 1843.3,1343.9 1847.1,1344.7 1850.9,1345.4 1854.8,1346 1858.6,1346.7 1862.4,1347.4 1866.3,1348 1870.1,1348.6 1873.9,1349.2 1877.8,1349.8 1881.6,1350.4 1885.4,1350.9 1889.3,1351.5 1893.1,1352 1896.9,1352.5 1900.8,1353 1904.6,1353.5 1908.4,1354 1912.3,1354.4 1916.1,1354.9 1919.9,1355.3 1923.8,1355.8 1927.6,1356.2 1931.4,1356.6 1935.3,1357 1939.1,1357.4 1942.9,1357.8 1946.8,1358.1 1950.6,1358.5 1954.4,1358.8 1958.3,1359.2 1962.1,1359.5 1965.9,1359.8 1969.8,1360.2 1973.6,1360.5 1977.4,1360.8 1981.3,1361.1 1985.1,1361.4 1988.9,1361.6 1992.8,1361.9 1996.6,1362.2 2000.4,1362.4 2004.3,1362.7 2008.1,1362.9 2011.9,1363.2 2015.8,1363.4 2019.6,1363.7 2023.4,1363.9 2027.3,1364.1 2031.1,1364.3 2034.9,1364.5 2038.8,1364.7 2042.6,1364.9 2046.4,1365.1 2050.3,1365.3 2054.1,1365.5 2057.9,1365.7 2061.8,1365.8 2065.6,1366 2069.4,1366.2 2073.3,1366.3 2077.1,1366.5 2080.9,1366.6 2084.8,1366.8 2088.6,1366.9 2092.4,1367.1 2096.3,1367.2 2100.1,1367.3 2103.9,1367.5 2107.8,1367.6 2111.6,1367.7 2115.4,1367.8 2119.3,1368 2123.1,1368.1 2126.9,1368.2 2130.8,1368.3 2134.6,1368.4 2138.4,1368.5 2142.3,1368.6 2146.1,1368.7 2149.9,1368.8 2153.8,1368.9 2157.6,1369 2161.4,1369.1 2165.3,1369.2 2169.1,1369.3 2172.9,1369.3 2176.8,1369.4 2180.6,1369.5 2184.4,1369.6 2188.3,1369.7 2192.1,1369.7 2195.9,1369.8 2199.8,1369.9 2203.6,1369.9 2207.4,1370 2211.3,1370.1 2215.1,1370.1 2218.9,1370.2 2222.8,1370.3 2226.6,1370.3 2230.4,1370.4 2234.3,1370.4 2238.1,1370.5 2241.9,1370.5 2245.8,1370.6 2249.6,1370.6 2253.4,1370.7 2257.3,1370.7 2261.1,1370.8 2264.9,1370.8 2268.8,1370.9 2272.6,1370.9 2276.4,1371 2280.3,1371 2284.1,1371 2287.9,1371.1 2291.8,1371.1 2295.6,1371.2 2299.4,1371.2 2303.3,1371.2 2307.1,1371.3 2310.9,1371.3 2314.8,1371.3 2318.6,1371.4 2322.4,1371.4 2326.3,1371.4 2330.1,1371.4 2333.9,1371.5 2337.8,1371.5 2341.6,1371.5 2345.4,1371.6 2349.3,1371.6 2353.1,1371.6 2356.9,1371.6 2360.8,1371.7 2364.6,1371.7 2368.4,1371.7 2372.3,1371.7 2376.1,1371.7 2379.9,1371.8 2383.8,1371.8 2387.6,1371.8 2391.4,1371.8 2395.3,1371.8 2399.1,1371.9 2402.9,1371.9 2406.8,1371.9 2410.6,1371.9 2414.4,1371.9 2418.3,1372 2422.1,1372 2425.9,1372 2429.8,1372 2433.6,1372 2437.4,1372 2441.3,1372 2445.1,1372.1 2448.9,1372.1 2452.8,1372.1 2456.6,1372.1 2460.4,1372.1 2464.3,1372.1 2468.1,1372.1 2471.9,1372.1 2475.8,1372.2 2479.6,1372.2 2483.4,1372.2 2487.3,1372.2 2491.1,1372.2 2494.9,1372.2 2498.8,1372.2 2502.6,1372.2 2506.4,1372.2 2510.3,1372.2 2514.1,1372.3 2517.9,1372.3 2521.8,1372.3 2525.6,1372.3 2529.4,1372.3 2533.3,1372.3 2537.1,1372.3 2540.9,1372.3 2544.8,1372.3 2548.6,1372.3 2552.4,1372.3 2556.3,1372.3 2560.1,1372.3 2563.9,1372.4 2567.8,1372.4 2571.6,1372.4 2575.4,1372.4 2579.3,1372.4 2583.1,1372.4 2586.9,1372.4 2590.8,1372.4 2594.6,1372.4 2598.4,1372.4 2602.3,1372.4 2606.1,1372.4 2609.9,1372.4 2613.8,1372.4 2617.6,1372.4 2621.4,1372.4 2625.3,1372.4 2629.1,1372.4 2632.9,1372.4 2636.8,1372.4 2640.6,1372.6 2644.4,1367.7 2648.3,1362.8 2652.1,1357.8 2655.9,1352.9 2659.8,1348 2663.6,1343.1 2667.4,1338.1 2671.3,1333.2 2675.1,1328.3 2678.9,1323.4 2682.8,1318.5 2685.8,1314.5" stroke="#5a9f9f" stroke-width="2.85" fill="none" stroke-linejoin="miter" stroke-miterlimit="10"/>
<polyline points="1582.6,1357.5 2685.8,1357.5" stroke="#7a2c94" stroke-width="2.85" fill="none" stroke-linejoin="miter" stroke-miterlimit="10"/>
<polyline points="1582.6,1244.1 1586.4,1241.4 1590.3,1238.7 1594.1,1235.9 1597.9,1232.9 1601.8,1229.9 1605.6,1226.9 1609.4,1223.7 1613.3,1220.5 1617.1,1217.2 1620.9,1213.8 1624.8,1210.3 1628.6,1206.8 1632.4,1211.1 1636.3,1215.3 1640.1,1219.4 1643.9,1223.3 1647.8,1227.1 1651.6,1230.8 1655.4,1234.4 1659.3,1237.9 1663.1,1241.3 1666.9,1244.6 1670.8,1247.7 1674.6,1250.8 1678.4,1253.8 1682.3,1256.7 1686.1,1259.5 1689.9,1262.3 1693.8,1264.9 1697.6,1267.5 1701.4,1270 1705.3,1272.4 1709.1,1274.8 1712.9,1277.1 1716.8,1279.3 1720.6,1281.5 1724.4,1283.5 1728.3,1285.6 1732.1,1287.6 1735.9,1289.5 1739.8,1291.3 1743.6,1293.2 1747.4,1294.9 1751.3,1296.6 1755.1,1298.3 1758.9,1299.9 1762.8,1301.5 1766.6,1303 1770.4,1304.5 1774.3,1305.9 1778.1,1307.3 1781.9,1308.6 1785.8,1310 1789.6,1311.2 1793.4,1312.5 1797.3,1313.7 1801.1,1314.9 1804.9,1316 1808.8,1317.1 1812.6,1318.2 1816.4,1319.3 1820.3,1320.3 1824.1,1321.3 1827.9,1322.3 1831.8,1323.2 1835.6,1324.1 1839.4,1325 1843.3,1325.9 1847.1,1326.7 1850.9,1327.5 1854.8,1328.3 1858.6,1329.1 1862.4,1329.8 1866.3,1330.6 1870.1,1331.3 1873.9,1332 1877.8,1332.6 1881.6,1333.3 1885.4,1333.9 1889.3,1334.5 1893.1,1335.1 1896.9,1335.7 1900.8,1336.3 1904.6,1336.9 1908.4,1306.6 1912.3,1276.4 1916.1,1246.1 1919.9,1215.9 1923.8,1185.6 1927.6,1155.3 1931.4,1125 1935.3,1094.7 1939.1,1064.3 1942.9,1034 1946.8,1003.7 1950.6,973.3 1954.4,989.1 1958.3,1004.3 1962.1,1018.9 1965.9,1032.9 1969.8,1046.2 1973.6,1059.1 1977.4,1071.4 1981.3,1083.1 1985.1,1094.4 1988.9,1105.3 1992.8,1115.6 1996.6,1125.6 2000.4,1135.1 2004.3,1144.3 2008.1,1153 2011.9,1161.4 2015.8,1169.5 2019.6,1177.2 2023.4,1184.6 2027.3,1191.7 2031.1,1198.5 2034.9,1205 2038.8,1211.3 2042.6,1217.2 2046.4,1223 2050.3,1228.5 2054.1,1233.8 2057.9,1238.8 2061.8,1243.7 2065.6,1248.3 2069.4,1252.8 2073.3,1257.1 2077.1,1261.2 2080.9,1265.1 2084.8,1268.9 2088.6,1272.5 2092.4,1245.2 2096.3,1217.7 2100.1,1190.2 2103.9,1162.4 2107.8,1134.6 2111.6,1106.6 2115.4,1078.6 2119.3,1050.4 2123.1,1022.1 2126.9,993.7 2130.8,965.2 2134.6,936.6 2138.4,954.2 2142.3,971 2146.1,987.1 2149.9,1002.6 2153.8,1017.4 2157.6,1031.6 2161.4,1045.2 2165.3,1058.2 2169.1,1070.7 2172.9,1082.6 2176.8,1094.1 2180.6,1105 2184.4,1115.6 2188.3,1125.6 2192.1,1135.3 2195.9,1144.6 2199.8,1153.4 2203.6,1161.9 2207.4,1170.1 2211.3,1177.9 2215.1,1185.4 2218.9,1192.5 2222.8,1199.4 2226.6,1206 2230.4,1212.3 2234.3,1218.3 2238.1,1224.1 2241.9,1229.7 2245.8,1235 2249.6,1240.1 2253.4,1245 2257.3,1249.6 2261.1,1254.1 2264.9,1258.4 2268.8,1262.5 2272.6,1266.5 2276.4,1239.5 2280.3,1212.4 2284.1,1185.1 2287.9,1157.6 2291.8,1130.1 2295.6,1102.4 2299.4,1074.5 2303.3,1046.6 2307.1,1018.5 2310.9,990.3 2314.8,962 2318.6,933.6 2322.4,951.3 2326.3,968.3 2330.1,984.6 2333.9,1000.2 2337.8,1015.2 2341.6,1029.5 2345.4,1043.2 2349.3,1056.3 2353.1,1068.9 2356.9,1081 2360.8,1092.6 2364.6,1103.6 2368.4,1114.3 2372.3,1124.4 2376.1,1134.2 2379.9,1143.5 2383.8,1152.5 2387.6,1161 2391.4,1169.2 2395.3,1177.1 2399.1,1184.7 2402.9,1191.9 2406.8,1198.8 2410.6,1205.4 2414.4,1211.8 2418.3,1217.9 2422.1,1223.7 2425.9,1229.3 2429.8,1234.7 2433.6,1239.8 2437.4,1244.7 2441.3,1249.4 2445.1,1254 2448.9,1258.3 2452.8,1262.4 2456.6,1266.4 2460.4,1239.4 2464.3,1212.3 2468.1,1185 2471.9,1157.6 2475.8,1130.1 2479.6,1102.4 2483.4,1074.6 2487.3,1046.6 2491.1,1018.6 2494.9,990.4 2498.8,962.1 2502.6,933.7 2506.4,951.5 2510.3,968.5 2514.1,984.7 2517.9,1000.4 2521.8,1015.3 2525.6,1029.6 2529.4,1043.4 2533.3,1056.5 2537.1,1069.1 2540.9,1081.2 2544.8,1092.7 2548.6,1103.8 2552.4,1114.4 2556.3,1124.6 2560.1,1134.4 2563.9,1143.7 2567.8,1152.7 2571.6,1161.2 2575.4,1169.4 2579.3,1177.3 2583.1,1184.9 2586.9,1192.1 2590.8,1199 2594.6,1205.6 2598.4,1212 2602.3,1218.1 2606.1,1223.9 2609.9,1229.5 2613.8,1234.9 2617.6,1240 2621.4,1244.9 2625.3,1249.6 2629.1,1254.1 2632.9,1258.5 2636.8,1262.6 2640.6,1266.7 2644.4,1265.6 2648.3,1264.3 2652.1,1262.9 2655.9,1261.3 2659.8,1259.6 2663.6,1257.7 2667.4,1255.8 2671.3,1253.7 2675.1,1251.4 2678.9,1249.1 2682.8,1246.6 2685.8,1244.6" stroke="#000" stroke-width="3.3" fill="none" stroke-linejoin="miter" stroke-miterlimit="10"/>
<path d="M1582.6 929.6V1372.6H2686.6" stroke="#000" stroke-width="2.9" fill="none"/>
<text class="n"><tspan x="1524.65" y="1373.8" font-size="18.00" textLength="13.62" lengthAdjust="spacingAndGlyphs">0</tspan></text>
<text class="n"><tspan x="1524.62" y="1333.24" font-size="23.66" textLength="12.27" lengthAdjust="spacingAndGlyphs">3</tspan><tspan x="1536.38" y="1329.5" font-size="18.00" textLength="13.62" lengthAdjust="spacingAndGlyphs">0</tspan></text>
<text class="n"><tspan x="1524.78" y="1285.2" font-size="23.81" textLength="12.46" lengthAdjust="spacingAndGlyphs">6</tspan><tspan x="1536.73" y="1285.2" font-size="18.00" textLength="13.62" lengthAdjust="spacingAndGlyphs">0</tspan></text>
<text class="n"><tspan x="1524.78" y="1244.64" font-size="23.66" textLength="12.46" lengthAdjust="spacingAndGlyphs">9</tspan><tspan x="1536.73" y="1240.9" font-size="18.00" textLength="13.62" lengthAdjust="spacingAndGlyphs">0</tspan></text>
<text class="n"><tspan x="1524.07" y="1196.6" font-size="18.41" textLength="10.95" lengthAdjust="spacingAndGlyphs">1</tspan><tspan x="1533.79" y="1196.6" font-size="18.35" textLength="12.64" lengthAdjust="spacingAndGlyphs">2</tspan><tspan x="1545.83" y="1196.6" font-size="18.00" textLength="13.62" lengthAdjust="spacingAndGlyphs">0</tspan></text>
<text class="n"><tspan x="1524.07" y="1152.29" font-size="18.41" textLength="10.95" lengthAdjust="spacingAndGlyphs">1</tspan><tspan x="1533.87" y="1156.04" font-size="23.90" textLength="12.07" lengthAdjust="spacingAndGlyphs">5</tspan><tspan x="1545.43" y="1152.29" font-size="18.00" textLength="13.62" lengthAdjust="spacingAndGlyphs">0</tspan></text>
<text class="n"><tspan x="1524.07" y="1107.99" font-size="18.41" textLength="10.95" lengthAdjust="spacingAndGlyphs">1</tspan><tspan x="1534.15" y="1107.99" font-size="23.70" textLength="13.03" lengthAdjust="spacingAndGlyphs">8</tspan><tspan x="1546.94" y="1107.99" font-size="18.00" textLength="13.62" lengthAdjust="spacingAndGlyphs">0</tspan></text>
<text class="n"><tspan x="1524.44" y="1063.69" font-size="18.35" textLength="12.64" lengthAdjust="spacingAndGlyphs">2</tspan><tspan x="1535.85" y="1063.69" font-size="18.41" textLength="10.95" lengthAdjust="spacingAndGlyphs">1</tspan><tspan x="1545.88" y="1063.69" font-size="18.00" textLength="13.62" lengthAdjust="spacingAndGlyphs">0</tspan></text>
<text class="n"><tspan x="1524.44" y="1019.39" font-size="18.35" textLength="12.64" lengthAdjust="spacingAndGlyphs">2</tspan><tspan x="1536.63" y="1023.13" font-size="24.16" textLength="12.01" lengthAdjust="spacingAndGlyphs">4</tspan><tspan x="1548.51" y="1019.39" font-size="18.00" textLength="13.62" lengthAdjust="spacingAndGlyphs">0</tspan></text>
<text class="n"><tspan x="1524.44" y="975.09" font-size="18.35" textLength="12.64" lengthAdjust="spacingAndGlyphs">2</tspan><tspan x="1536.12" y="978.83" font-size="24.27" textLength="12.01" lengthAdjust="spacingAndGlyphs">7</tspan><tspan x="1547.5" y="975.09" font-size="18.00" textLength="13.62" lengthAdjust="spacingAndGlyphs">0</tspan></text>
<text class="n"><tspan x="1524.62" y="934.53" font-size="23.66" textLength="12.27" lengthAdjust="spacingAndGlyphs">3</tspan><tspan x="1536.38" y="930.79" font-size="18.00" textLength="13.62" lengthAdjust="spacingAndGlyphs">0</tspan><tspan x="1549.72" y="930.79" font-size="18.00" textLength="13.62" lengthAdjust="spacingAndGlyphs">0</tspan></text>
<text class="n"><tspan x="1665.08" y="1402" font-size="18.35" textLength="12.64" lengthAdjust="spacingAndGlyphs">2</tspan></text>
<text class="n"><tspan x="1757.4" y="1405.74" font-size="24.16" textLength="12.01" lengthAdjust="spacingAndGlyphs">4</tspan></text>
<text class="n"><tspan x="1849.17" y="1402" font-size="23.81" textLength="12.46" lengthAdjust="spacingAndGlyphs">6</tspan></text>
<text class="n"><tspan x="1940.89" y="1402" font-size="23.70" textLength="13.03" lengthAdjust="spacingAndGlyphs">8</tspan></text>
<text class="n"><tspan x="2027.28" y="1402" font-size="18.41" textLength="10.95" lengthAdjust="spacingAndGlyphs">1</tspan><tspan x="2037.31" y="1402" font-size="18.00" textLength="13.62" lengthAdjust="spacingAndGlyphs">0</tspan></text>
<text class="n"><tspan x="2120.04" y="1402" font-size="18.41" textLength="10.95" lengthAdjust="spacingAndGlyphs">1</tspan><tspan x="2129.76" y="1402" font-size="18.35" textLength="12.64" lengthAdjust="spacingAndGlyphs">2</tspan></text>
<text class="n"><tspan x="2211.71" y="1402" font-size="18.41" textLength="10.95" lengthAdjust="spacingAndGlyphs">1</tspan><tspan x="2221.89" y="1405.74" font-size="24.16" textLength="12.01" lengthAdjust="spacingAndGlyphs">4</tspan></text>
<text class="n"><tspan x="2303.91" y="1402" font-size="18.41" textLength="10.95" lengthAdjust="spacingAndGlyphs">1</tspan><tspan x="2313.72" y="1402" font-size="23.81" textLength="12.46" lengthAdjust="spacingAndGlyphs">6</tspan></text>
<text class="n"><tspan x="2395.53" y="1402" font-size="18.41" textLength="10.95" lengthAdjust="spacingAndGlyphs">1</tspan><tspan x="2405.61" y="1402" font-size="23.70" textLength="13.03" lengthAdjust="spacingAndGlyphs">8</tspan></text>
<text class="n"><tspan x="2486.46" y="1402" font-size="18.35" textLength="12.64" lengthAdjust="spacingAndGlyphs">2</tspan><tspan x="2498.5" y="1402" font-size="18.00" textLength="13.62" lengthAdjust="spacingAndGlyphs">0</tspan></text>
<text class="n"><tspan x="2579.22" y="1402" font-size="18.35" textLength="12.64" lengthAdjust="spacingAndGlyphs">2</tspan><tspan x="2590.95" y="1402" font-size="18.35" textLength="12.64" lengthAdjust="spacingAndGlyphs">2</tspan></text>
<text class="n"><tspan x="2670.89" y="1402" font-size="18.35" textLength="12.64" lengthAdjust="spacingAndGlyphs">2</tspan><tspan x="2683.08" y="1405.74" font-size="24.16" textLength="12.01" lengthAdjust="spacingAndGlyphs">4</tspan></text>
<text x="1499" y="877.3" font-size="22.7" textLength="87" lengthAdjust="spacingAndGlyphs">LED(mg)</text>
<text x="1740.5" y="876.3" font-size="22.7" textLength="569.8" lengthAdjust="spacingAndGlyphs">Graph of exogenous plasma levodopa equivalent against time</text>
<text x="2234" y="1456.6" font-size="22.7" textLength="113" lengthAdjust="spacingAndGlyphs">Time (hour)</text>
</svg>
</body></html>
